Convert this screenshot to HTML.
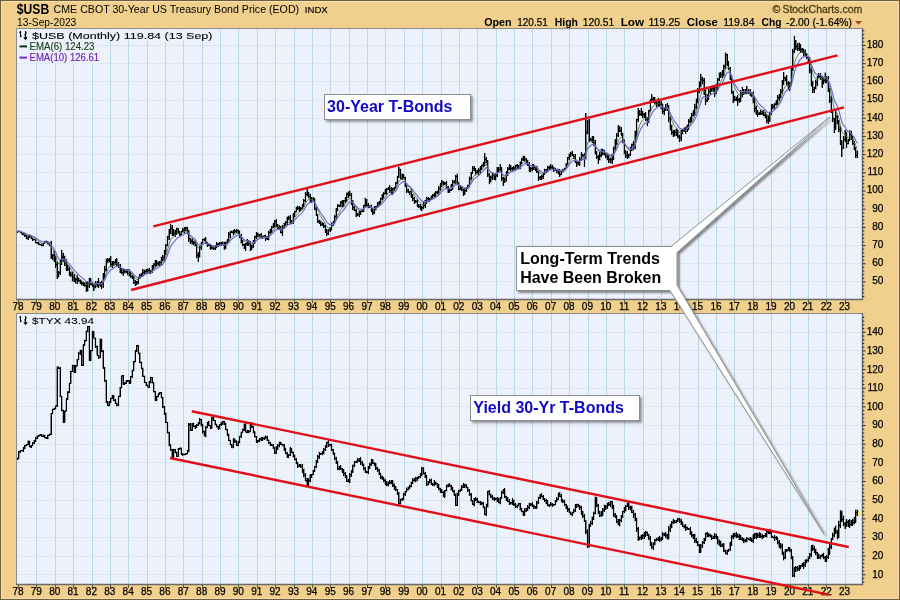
<!DOCTYPE html>
<html><head><meta charset="utf-8"><title>$USB</title>
<style>html,body{margin:0;padding:0;background:#F0D08C;}body{width:900px;height:600px;position:relative;overflow:hidden;font-family:"Liberation Sans",sans-serif;}</style>
</head><body>
<svg width="900" height="600" viewBox="0 0 900 600" style="position:absolute;left:0;top:0;opacity:0.999;font-family:'Liberation Sans',sans-serif">
<defs>
<filter id="sh" x="-5%" y="-5%" width="115%" height="115%"><feGaussianBlur in="SourceAlpha" stdDeviation="1.2"/><feOffset dx="2" dy="2"/><feComponentTransfer><feFuncA type="linear" slope="0.45"/></feComponentTransfer><feMerge><feMergeNode/><feMergeNode in="SourceGraphic"/></feMerge></filter>
<filter id="sh2" x="-5%" y="-20%" width="115%" height="150%"><feGaussianBlur in="SourceAlpha" stdDeviation="1"/><feOffset dx="1.5" dy="1.5"/><feComponentTransfer><feFuncA type="linear" slope="0.38"/></feComponentTransfer><feMerge><feMergeNode/><feMergeNode in="SourceGraphic"/></feMerge></filter>
<clipPath id="c1"><rect x="16" y="28" width="846" height="272"/></clipPath>
<clipPath id="c2"><rect x="16" y="313" width="846" height="272"/></clipPath>
</defs>
<rect x="0" y="0" width="900" height="600" fill="#F0D08C"/>
<rect x="0.5" y="0.5" width="899" height="599" fill="none" stroke="#6E5F3C" stroke-width="1"/>
<path d="M1.5 598.5 V1.5 H898.5" fill="none" stroke="#F8E2B4" stroke-width="1"/>
<path d="M898.5 2 V598.5 H2" fill="none" stroke="#F3DAB0" stroke-width="1"/>
<rect x="16" y="28" width="846" height="272" fill="#EDF1FB"/>
<path d="M16 281.5H862 M16 263.5H862 M16 245.5H862 M16 227.5H862 M16 209.5H862 M16 191.5H862 M16 172.5H862 M16 154.5H862 M16 136.5H862 M16 118.5H862 M16 100.5H862 M16 81.5H862 M16 63.5H862 M16 45.5H862" stroke="#D6E8F0" stroke-width="1" fill="none" shape-rendering="crispEdges"/>
<path d="M36.5 28V300 M55.5 28V300 M73.5 28V300 M92.5 28V300 M110.5 28V300 M128.5 28V300 M147.5 28V300 M165.5 28V300 M183.5 28V300 M202.5 28V300 M220.5 28V300 M238.5 28V300 M257.5 28V300 M275.5 28V300 M294.5 28V300 M312.5 28V300 M330.5 28V300 M349.5 28V300 M367.5 28V300 M385.5 28V300 M404.5 28V300 M422.5 28V300 M441.5 28V300 M459.5 28V300 M477.5 28V300 M496.5 28V300 M514.5 28V300 M532.5 28V300 M551.5 28V300 M569.5 28V300 M588.5 28V300 M606.5 28V300 M624.5 28V300 M643.5 28V300 M661.5 28V300 M679.5 28V300 M698.5 28V300 M716.5 28V300 M734.5 28V300 M753.5 28V300 M771.5 28V300 M790.5 28V300 M808.5 28V300 M826.5 28V300 M845.5 28V300" stroke="#BCD7E5" stroke-width="1" fill="none" shape-rendering="crispEdges"/>
<rect x="16" y="313" width="846" height="272" fill="#EDF1FB"/>
<path d="M16 574.5H862 M16 556.5H862 M16 537.5H862 M16 518.5H862 M16 500.5H862 M16 481.5H862 M16 462.5H862 M16 444.5H862 M16 425.5H862 M16 406.5H862 M16 388.5H862 M16 369.5H862 M16 350.5H862 M16 332.5H862" stroke="#D6E8F0" stroke-width="1" fill="none" shape-rendering="crispEdges"/>
<path d="M36.5 313V585 M55.5 313V585 M73.5 313V585 M92.5 313V585 M110.5 313V585 M128.5 313V585 M147.5 313V585 M165.5 313V585 M183.5 313V585 M202.5 313V585 M220.5 313V585 M238.5 313V585 M257.5 313V585 M275.5 313V585 M294.5 313V585 M312.5 313V585 M330.5 313V585 M349.5 313V585 M367.5 313V585 M385.5 313V585 M404.5 313V585 M422.5 313V585 M441.5 313V585 M459.5 313V585 M477.5 313V585 M496.5 313V585 M514.5 313V585 M532.5 313V585 M551.5 313V585 M569.5 313V585 M588.5 313V585 M606.5 313V585 M624.5 313V585 M643.5 313V585 M661.5 313V585 M679.5 313V585 M698.5 313V585 M716.5 313V585 M734.5 313V585 M753.5 313V585 M771.5 313V585 M790.5 313V585 M808.5 313V585 M826.5 313V585 M845.5 313V585" stroke="#BCD7E5" stroke-width="1" fill="none" shape-rendering="crispEdges"/>
<g clip-path="url(#c1)">
<defs><path id="b1" d="M17.30 230.89V232.56M16.30 231.70H17.30M17.30 231.28H18.30M18.83 230.52V232.11M17.83 231.28H18.83M18.83 231.52H19.83M20.37 230.79V232.60M19.37 231.52H20.37M20.37 232.33H21.37M21.90 232.02V234.40M20.90 232.33H21.90M21.90 234.07H22.90M23.43 233.04V235.30M22.43 234.07H23.43M23.43 234.94H24.43M24.96 234.10V237.04M23.96 234.94H24.96M24.96 235.89H25.96M26.50 235.27V239.35M25.50 235.89H26.50M26.50 238.17H27.50M28.03 235.93V239.70M27.03 238.17H28.03M28.03 236.99H29.03M29.56 235.49V237.53M28.56 236.99H29.56M29.56 235.84H30.56M31.10 235.43V239.19M30.10 235.84H31.10M31.10 238.39H32.10M32.63 237.79V240.59M31.63 238.39H32.63M32.63 239.82H33.63M34.16 239.52V240.37M33.16 239.82H34.16M34.16 239.93H35.16M35.69 239.28V243.18M34.69 239.93H35.69M35.69 242.63H36.69M37.23 241.96V243.91M36.23 242.63H37.23M37.23 243.38H38.23M38.76 242.47V244.87M37.76 243.38H38.76M38.76 244.39H39.76M40.29 243.63V245.47M39.29 244.39H40.29M40.29 244.38H41.29M41.83 243.86V246.44M40.83 244.38H41.83M41.83 245.26H42.83M43.36 242.64V246.23M42.36 245.26H43.36M43.36 243.29H44.36M44.89 240.80V243.56M43.89 243.29H44.89M44.89 241.51H45.89M46.42 240.53V242.54M45.42 241.51H46.42M46.42 241.75H47.42M47.96 241.21V244.41M46.96 241.75H47.96M47.96 243.50H48.96M49.49 242.71V246.14M48.49 243.50H49.49M49.49 245.46H50.49M51.02 241.06V258.68M50.02 245.46H51.02M51.02 256.02H52.02M52.56 254.35V259.52M51.56 256.02H52.56M52.56 255.49H53.56M54.09 250.92V262.03M53.09 255.49H54.09M54.09 258.08H55.09M55.62 255.74V267.56M54.62 258.08H55.62M55.62 264.18H56.62M57.15 261.56V279.00M56.15 264.18H57.15M57.15 273.52H58.15M58.69 271.42V277.27M57.69 273.52H58.69M58.69 272.56H59.69M60.22 260.35V274.92M59.22 272.56H60.22M60.22 262.18H61.22M61.75 249.70V264.75M60.75 262.18H61.75M61.75 257.02H62.75M63.29 252.84V261.71M62.29 257.02H63.29M63.29 257.78H64.29M64.82 255.83V265.74M63.82 257.78H64.82M64.82 263.29H65.82M66.35 259.12V270.58M65.35 263.29H66.35M66.35 266.13H67.35M67.88 264.57V271.03M66.88 266.13H67.88M67.88 269.26H68.88M69.42 266.55V275.56M68.42 269.26H69.42M69.42 272.47H70.42M70.95 271.53V277.09M69.95 272.47H70.95M70.95 274.63H71.95M72.48 271.62V281.44M71.48 274.63H72.48M72.48 277.01H73.48M74.02 274.20V281.89M73.02 277.01H74.02M74.02 278.70H75.02M75.55 277.58V283.38M74.55 278.70H75.55M75.55 279.15H76.55M77.08 275.02V284.09M76.08 279.15H77.08M77.08 280.24H78.08M78.61 277.85V281.97M77.61 280.24H78.61M78.61 280.66H79.61M80.15 279.52V284.12M79.15 280.66H80.15M80.15 282.95H81.15M81.68 281.43V285.38M80.68 282.95H81.68M81.68 283.21H82.68M83.21 282.28V285.75M82.21 283.21H83.21M83.21 284.27H84.21M84.75 282.01V286.64M83.75 284.27H84.75M84.75 285.62H85.75M86.28 282.44V291.70M85.28 285.62H86.28M86.28 289.13H87.28M87.81 280.90V291.39M86.81 289.13H87.81M87.81 283.10H88.81M89.34 277.70V287.67M88.34 283.10H89.34M89.34 281.05H90.34M90.88 278.35V285.28M89.88 281.05H90.88M90.88 284.05H91.88M92.41 281.86V286.86M91.41 284.05H92.41M92.41 284.96H93.41M93.94 283.45V291.00M92.94 284.96H93.94M93.94 286.92H94.94M95.48 281.40V288.38M94.48 286.92H95.48M95.48 284.27H96.48M97.01 281.29V287.13M96.01 284.27H97.01M97.01 282.31H98.01M98.54 278.21V287.68M97.54 282.31H98.54M98.54 284.20H99.54M100.07 281.93V286.59M99.07 284.20H100.07M100.07 285.05H101.07M101.61 280.75V288.84M100.61 285.05H101.61M101.61 283.63H102.61M103.14 273.49V287.54M102.14 283.63H103.14M103.14 275.23H104.14M104.67 265.64V279.12M103.67 275.23H104.67M104.67 269.70H105.67M106.21 258.70V271.45M105.21 269.70H106.21M106.21 262.34H107.21M107.74 258.03V263.37M106.74 262.34H107.74M107.74 260.26H108.74M109.27 258.31V262.42M108.27 260.26H109.27M109.27 260.55H110.27M110.80 256.11V266.87M109.80 260.55H110.80M110.80 264.31H111.80M112.34 261.04V268.21M111.34 264.31H112.34M112.34 265.02H113.34M113.87 261.20V266.28M112.87 265.02H113.87M113.87 262.44H114.87M115.40 259.00V264.75M114.40 262.44H115.40M115.40 261.07H116.40M116.94 258.19V266.66M115.94 261.07H116.94M116.94 264.74H117.94M118.47 261.97V267.98M117.47 264.74H118.47M118.47 267.09H119.47M120.00 264.03V272.91M119.00 267.09H120.00M120.00 270.18H121.00M121.53 268.26V273.88M120.53 270.18H121.53M121.53 272.75H122.53M123.07 269.33V275.52M122.07 272.75H123.07M123.07 270.87H124.07M124.60 269.17V273.39M123.60 270.87H124.60M124.60 271.67H125.60M126.13 269.09V273.35M125.13 271.67H126.13M126.13 272.25H127.13M127.66 269.38V275.29M126.66 272.25H127.66M127.66 270.44H128.66M129.20 269.39V276.42M128.20 270.44H129.20M129.20 273.58H130.20M130.73 271.18V277.81M129.73 273.58H130.73M130.73 276.22H131.73M132.26 275.22V278.74M131.26 276.22H132.26M132.26 278.04H133.26M133.80 275.67V284.09M132.80 278.04H133.80M133.80 282.04H134.80M135.33 280.23V285.80M134.33 282.04H135.33M135.33 283.87H136.33M136.86 280.95V285.19M135.86 283.87H136.86M136.86 282.16H137.86M138.39 276.66V284.37M137.39 282.16H138.39M138.39 277.95H139.39M139.93 273.64V278.96M138.93 277.95H139.93M139.93 275.41H140.93M141.46 273.32V277.27M140.46 275.41H141.46M141.46 274.91H142.46M142.99 269.21V276.68M141.99 274.91H142.99M142.99 272.26H143.99M144.53 269.74V274.32M143.53 272.26H144.53M144.53 271.73H145.53M146.06 268.81V273.55M145.06 271.73H146.06M146.06 269.52H147.06M147.59 268.85V272.77M146.59 269.52H147.59M147.59 270.00H148.59M149.12 268.09V274.04M148.12 270.00H149.12M149.12 271.46H150.12M150.66 269.94V273.84M149.66 271.46H150.66M150.66 271.82H151.66M152.19 265.23V272.76M151.19 271.82H152.19M152.19 267.96H153.19M153.72 263.28V269.35M152.72 267.96H153.72M153.72 264.59H154.72M155.26 260.00V266.74M154.26 264.59H155.26M155.26 263.50H156.26M156.79 260.43V265.53M155.79 263.50H156.79M156.79 263.70H157.79M158.32 261.50V265.71M157.32 263.70H158.32M158.32 263.50H159.32M159.85 261.03V265.57M158.85 263.50H159.85M159.85 262.89H160.85M161.39 256.77V265.39M160.39 262.89H161.39M161.39 259.92H162.39M162.92 255.17V261.26M161.92 259.92H162.92M162.92 258.32H163.92M164.45 250.17V261.20M163.45 258.32H164.45M164.45 253.32H165.45M165.99 244.34V255.15M164.99 253.32H165.99M165.99 245.33H166.99M167.52 235.64V246.18M166.52 245.33H167.52M167.52 236.93H168.52M169.05 228.97V239.96M168.05 236.93H169.05M169.05 231.69H170.05M170.58 224.20V234.10M169.58 231.69H170.58M170.58 228.03H171.58M172.12 225.03V235.73M171.12 228.03H172.12M172.12 232.51H173.12M173.65 229.34V235.50M172.65 232.51H173.65M173.65 233.79H174.65M175.18 229.78V236.64M174.18 233.79H175.18M175.18 233.05H176.18M176.72 227.50V235.07M175.72 233.05H176.72M176.72 229.15H177.72M178.25 227.97V233.67M177.25 229.15H178.25M178.25 232.17H179.25M179.78 231.46V236.28M178.78 232.17H179.78M179.78 234.16H180.78M181.31 230.73V235.69M180.31 234.16H181.31M181.31 231.44H182.31M182.85 228.11V232.27M181.85 231.44H182.85M182.85 230.12H183.85M184.38 227.38V233.88M183.38 230.12H184.38M184.38 230.66H185.38M185.91 226.65V231.42M184.91 230.66H185.91M185.91 228.01H186.91M187.45 226.64V234.26M186.45 228.01H187.45M187.45 233.26H188.45M188.98 230.19V241.63M187.98 233.26H188.98M188.98 238.81H189.98M190.51 237.88V243.72M189.51 238.81H190.51M190.51 241.01H191.51M192.04 238.80V244.48M191.04 241.01H192.04M192.04 243.69H193.04M193.58 240.76V245.26M192.58 243.69H193.58M193.58 242.94H194.58M195.11 240.18V246.40M194.11 242.94H195.11M195.11 244.35H196.11M196.64 243.58V257.92M195.64 244.35H196.64M196.64 255.36H197.64M198.18 252.07V261.70M197.18 255.36H198.18M198.18 254.65H199.18M199.71 245.83V257.38M198.71 254.65H199.71M199.71 247.69H200.71M201.24 242.30V249.50M200.24 247.69H201.24M201.24 243.18H202.24M202.77 238.78V244.14M201.77 243.18H202.77M202.77 239.61H203.77M204.31 238.46V240.91M203.31 239.61H204.31M204.31 239.50H205.31M205.84 237.16V244.02M204.84 239.50H205.84M205.84 242.76H206.84M207.37 241.77V246.63M206.37 242.76H207.37M207.37 245.24H208.37M208.91 244.08V246.31M207.91 245.24H208.91M208.91 245.69H209.91M210.44 243.83V249.52M209.44 245.69H210.44M210.44 248.50H211.44M211.97 245.35V249.33M210.97 248.50H211.97M211.97 248.10H212.97M213.50 246.51V250.00M212.50 248.10H213.50M213.50 248.28H214.50M215.04 245.34V250.03M214.04 248.28H215.04M215.04 246.83H216.04M216.57 242.03V248.20M215.57 246.83H216.57M216.57 244.89H217.57M218.10 242.67V246.95M217.10 244.89H218.10M218.10 244.89H219.10M219.64 241.88V245.60M218.64 244.89H219.64M219.64 243.27H220.64M221.17 241.81V245.57M220.17 243.27H221.17M221.17 242.56H222.17M222.70 241.60V245.24M221.70 242.56H222.70M222.70 244.47H223.70M224.23 241.87V249.79M223.23 244.47H224.23M224.23 247.65H225.23M225.77 241.72V248.91M224.77 247.65H225.77M225.77 242.86H226.77M227.30 239.34V244.48M226.30 242.86H227.30M227.30 240.28H228.30M228.83 232.05V243.12M227.83 240.28H228.83M228.83 234.86H229.83M230.37 230.87V237.69M229.37 234.86H230.37M230.37 232.02H231.37M231.90 230.61V232.63M230.90 232.02H231.90M231.90 232.05H232.90M233.43 230.37V234.59M232.43 232.05H233.43M233.43 232.85H234.43M234.96 229.43V233.44M233.96 232.85H234.96M234.96 231.18H235.96M236.50 229.45V232.69M235.50 231.18H236.50M236.50 230.24H237.50M238.03 229.61V233.73M237.03 230.24H238.03M238.03 232.45H239.03M239.56 230.51V238.31M238.56 232.45H239.56M239.56 236.50H240.56M241.10 234.40V243.48M240.10 236.50H241.10M241.10 241.24H242.10M242.63 239.75V246.02M241.63 241.24H242.63M242.63 244.68H243.63M244.16 243.75V249.00M243.16 244.68H244.16M244.16 248.06H245.16M245.69 243.04V250.57M244.69 248.06H245.69M245.69 243.72H246.69M247.23 238.96V246.01M246.23 243.72H247.23M247.23 240.99H248.23M248.76 240.09V245.55M247.76 240.99H248.76M248.76 243.76H249.76M250.29 241.24V251.00M249.29 243.76H250.29M250.29 247.24H251.29M251.83 244.86V249.89M250.83 247.24H251.83M251.83 246.80H252.83M253.36 239.91V247.91M252.36 246.80H253.36M253.36 242.10H254.36M254.89 235.86V243.51M253.89 242.10H254.89M254.89 236.75H255.89M256.42 232.13V238.62M255.42 236.75H256.42M256.42 234.64H257.42M257.96 232.61V236.92M256.96 234.64H257.96M257.96 234.76H258.96M259.49 234.17V237.36M258.49 234.76H259.49M259.49 234.93H260.49M261.02 233.18V238.11M260.02 234.93H261.02M261.02 236.29H262.02M262.56 235.54V238.58M261.56 236.29H262.56M262.56 236.28H263.56M264.09 235.01V237.47M263.09 236.28H264.09M264.09 235.76H265.09M265.62 234.70V240.80M264.62 235.76H265.62M265.62 238.56H266.62M267.15 236.18V240.03M266.15 238.56H267.15M267.15 237.91H268.15M268.69 230.67V240.27M267.69 237.91H268.69M268.69 232.84H269.69M270.22 228.68V233.60M269.22 232.84H270.22M270.22 230.75H271.22M271.75 226.22V233.06M270.75 230.75H271.75M271.75 227.39H272.75M273.29 223.39V228.00M272.29 227.39H273.29M273.29 225.29H274.29M274.82 220.00V227.42M273.82 225.29H274.82M274.82 221.38H275.82M276.35 219.23V226.95M275.35 221.38H276.35M276.35 225.70H277.35M277.88 224.04V229.70M276.88 225.70H277.88M277.88 228.04H278.88M279.42 225.38V229.84M278.42 228.04H279.42M279.42 228.80H280.42M280.95 226.04V233.40M279.95 228.80H280.95M280.95 232.78H281.95M282.48 225.09V235.60M281.48 232.78H282.48M282.48 227.57H283.48M284.02 222.69V228.64M283.02 227.57H284.02M284.02 223.89H285.02M285.55 221.37V225.82M284.55 223.89H285.55M285.55 222.44H286.55M287.08 216.57V225.23M286.08 222.44H287.08M287.08 218.37H288.08M288.61 215.80V220.13M287.61 218.37H288.61M288.61 217.67H289.61M290.15 215.46V224.22M289.15 217.67H290.15M290.15 223.11H291.15M291.68 220.36V223.74M290.68 223.11H291.68M291.68 222.06H292.68M293.21 213.43V223.69M292.21 222.06H293.21M293.21 215.15H294.21M294.75 210.90V216.53M293.75 215.15H294.75M294.75 211.81H295.75M296.28 206.68V212.39M295.28 211.81H296.28M296.28 209.21H297.28M297.81 205.67V210.07M296.81 209.21H297.81M297.81 208.19H298.81M299.34 205.96V211.69M298.34 208.19H299.34M299.34 209.02H300.34M300.88 206.92V210.51M299.88 209.02H300.88M300.88 208.36H301.88M302.41 204.39V209.78M301.41 208.36H302.41M302.41 206.34H303.41M303.94 199.26V207.03M302.94 206.34H303.94M303.94 200.48H304.94M305.48 192.43V201.72M304.48 200.48H305.48M305.48 194.94H306.48M307.01 189.20V196.14M306.01 194.94H307.01M307.01 192.85H308.01M308.54 191.83V197.75M307.54 192.85H308.54M308.54 196.30H309.54M310.07 193.67V202.49M309.07 196.30H310.07M310.07 200.03H311.07M311.61 196.99V202.79M310.61 200.03H311.61M311.61 199.69H312.61M313.14 197.44V200.78M312.14 199.69H313.14M313.14 200.08H314.14M314.67 198.46V210.32M313.67 200.08H314.67M314.67 208.00H315.67M316.21 206.75V215.79M315.21 208.00H316.21M316.21 215.09H317.21M317.74 214.22V222.77M316.74 215.09H317.74M317.74 221.09H318.74M319.27 219.82V223.98M318.27 221.09H319.27M319.27 221.69H320.27M320.80 220.50V226.41M319.80 221.69H320.80M320.80 224.31H321.80M322.34 222.12V225.80M321.34 224.31H322.34M322.34 223.99H323.34M323.87 223.04V227.77M322.87 223.99H323.87M323.87 226.71H324.87M325.40 224.97V232.87M324.40 226.71H325.40M325.40 231.78H326.40M326.94 228.89V235.80M325.94 231.78H326.94M326.94 233.91H327.94M328.47 229.37V234.70M327.47 233.91H328.47M328.47 230.39H329.47M330.00 227.03V231.53M329.00 230.39H330.00M330.00 227.82H331.00M331.53 222.61V230.46M330.53 227.82H331.53M331.53 224.51H332.53M333.07 221.38V226.05M332.07 224.51H333.07M333.07 222.92H334.07M334.60 215.20V224.28M333.60 222.92H334.60M334.60 216.65H335.60M336.13 208.00V219.48M335.13 216.65H336.13M336.13 209.22H337.13M337.66 203.97V211.27M336.66 209.22H337.66M337.66 205.72H338.66M339.20 204.52V206.92M338.20 205.72H339.20M339.20 205.60H340.20M340.73 201.04V207.22M339.73 205.60H340.73M340.73 202.55H341.73M342.26 200.00V207.27M341.26 202.55H342.26M342.26 204.66H343.26M343.80 199.90V206.89M342.80 204.66H343.80M343.80 200.56H344.80M345.33 197.45V202.50M344.33 200.56H345.33M345.33 199.13H346.33M346.86 192.59V201.86M345.86 199.13H346.86M346.86 194.08H347.86M348.39 191.52V197.78M347.39 194.08H348.39M348.39 194.94H349.39M349.93 190.80V196.43M348.93 194.94H349.93M349.93 195.49H350.93M351.46 193.33V205.02M350.46 195.49H351.46M351.46 202.26H352.46M352.99 200.18V210.30M351.99 202.26H352.99M352.99 207.95H353.99M354.53 206.09V211.14M353.53 207.95H354.53M354.53 210.47H355.53M356.06 209.35V217.00M355.06 210.47H356.06M356.06 214.32H357.06M357.59 213.04V215.62M356.59 214.32H357.59M357.59 214.74H358.59M359.12 210.87V216.94M358.12 214.74H359.12M359.12 212.92H360.12M360.66 210.53V214.72M359.66 212.92H360.66M360.66 211.27H361.66M362.19 209.18V212.37M361.19 211.27H362.19M362.19 210.66H363.19M363.72 204.81V211.94M362.72 210.66H363.72M363.72 205.41H364.72M365.26 197.76V207.49M364.26 205.41H365.26M365.26 200.57H366.26M366.79 198.89V207.07M365.79 200.57H366.79M366.79 205.95H367.79M368.32 203.13V208.16M367.32 205.95H368.32M368.32 205.94H369.32M369.85 205.31V207.86M368.85 205.94H369.85M369.85 206.12H370.85M371.39 204.57V211.72M370.39 206.12H371.39M371.39 210.54H372.39M372.92 207.82V215.00M371.92 210.54H372.92M372.92 212.42H373.92M374.45 206.38V213.98M373.45 212.42H374.45M374.45 207.74H375.45M375.99 205.84V210.17M374.99 207.74H375.99M375.99 206.88H376.99M377.52 202.23V207.93M376.52 206.88H377.52M377.52 203.98H378.52M379.05 201.05V206.46M378.05 203.98H379.05M379.05 202.36H380.05M380.58 197.51V204.70M379.58 202.36H380.58M380.58 198.61H381.58M382.12 194.06V200.34M381.12 198.61H382.12M382.12 196.85H383.12M383.65 192.36V198.40M382.65 196.85H383.65M383.65 193.46H384.65M385.18 189.17V194.38M384.18 193.46H385.18M385.18 191.95H386.18M386.72 187.97V194.79M385.72 191.95H386.72M386.72 189.05H387.72M388.25 187.30V189.77M387.25 189.05H388.25M388.25 188.00H389.25M389.78 185.33V192.96M388.78 188.00H389.78M389.78 190.33H390.78M391.31 187.44V194.50M390.31 190.33H391.31M391.31 191.76H392.31M392.85 187.65V194.51M391.85 191.76H392.85M392.85 188.66H393.85M394.38 187.17V190.78M393.38 188.66H394.38M394.38 187.82H395.38M395.91 181.71V189.17M394.91 187.82H395.91M395.91 183.16H396.91M397.45 176.34V184.39M396.45 183.16H397.45M397.45 176.92H398.45M398.98 166.70V177.79M397.98 176.92H398.98M398.98 169.70H399.98M400.51 168.63V179.43M399.51 169.70H400.51M400.51 178.02H401.51M402.04 173.60V179.60M401.04 178.02H402.04M402.04 176.08H403.04M403.58 174.40V179.25M402.58 176.08H403.58M403.58 177.81H404.58M405.11 176.78V186.83M404.11 177.81H405.11M405.11 185.41H406.11M406.64 184.76V192.51M405.64 185.41H406.64M406.64 190.98H407.64M408.18 188.62V193.09M407.18 190.98H408.18M408.18 192.41H409.18M409.71 190.89V195.13M408.71 192.41H409.71M409.71 191.61H410.71M411.24 189.30V197.76M410.24 191.61H411.24M411.24 195.09H412.24M412.77 193.88V201.25M411.77 195.09H412.77M412.77 198.45H413.77M414.31 197.26V203.57M413.31 198.45H414.31M414.31 201.33H415.31M415.84 200.11V202.50M414.84 201.33H415.84M415.84 201.91H416.84M417.37 199.21V206.81M416.37 201.91H417.37M417.37 204.76H418.37M418.91 204.12V208.03M417.91 204.76H418.91M418.91 206.90H419.91M420.44 204.10V209.77M419.44 206.90H420.44M420.44 206.98H421.44M421.97 205.82V210.80M420.97 206.98H421.97M421.97 207.95H422.97M423.50 202.35V208.96M422.50 207.95H423.50M423.50 205.08H424.50M425.04 199.97V207.57M424.04 205.08H425.04M425.04 202.27H426.04M426.57 196.63V203.61M425.57 202.27H426.57M426.57 198.62H427.57M428.10 197.20V201.71M427.10 198.62H428.10M428.10 199.32H429.10M429.64 198.28V201.74M428.64 199.32H429.64M429.64 199.41H430.64M431.17 195.57V200.07M430.17 199.41H431.17M431.17 196.30H432.17M432.70 194.14V199.15M431.70 196.30H432.70M432.70 195.47H433.70M434.23 192.60V196.92M433.23 195.47H434.23M434.23 195.72H435.23M435.77 191.38V197.46M434.77 195.72H435.77M435.77 192.19H436.77M437.30 190.57V193.65M436.30 192.19H437.30M437.30 192.53H438.30M438.83 186.40V194.67M437.83 192.53H438.83M438.83 188.42H439.83M440.37 183.39V190.54M439.37 188.42H440.37M440.37 185.93H441.37M441.90 179.98V187.19M440.90 185.93H441.90M441.90 182.51H442.90M443.43 181.07V185.38M442.43 182.51H443.43M443.43 183.08H444.43M444.96 181.93V184.67M443.96 183.08H444.96M444.96 183.52H445.96M446.50 180.89V189.16M445.50 183.52H446.50M446.50 187.24H447.50M448.03 185.74V192.99M447.03 187.24H448.03M448.03 190.11H449.03M449.56 188.99V192.62M448.56 190.11H449.56M449.56 190.16H450.56M451.10 184.29V190.98M450.10 190.16H451.10M451.10 187.17H452.10M452.63 179.74V189.70M451.63 187.17H452.63M452.63 182.22H453.63M454.16 180.46V183.48M453.16 182.22H454.16M454.16 181.14H455.16M455.69 175.00V183.97M454.69 181.14H455.69M455.69 176.34H456.69M457.23 173.61V185.28M456.23 176.34H457.23M457.23 183.84H458.23M458.76 182.22V190.29M457.76 183.84H458.76M458.76 189.10H459.76M460.29 185.08V189.93M459.29 189.10H460.29M460.29 187.86H461.29M461.83 185.84V190.73M460.83 187.86H461.83M461.83 189.65H462.83M463.36 188.74V195.50M462.36 189.65H463.36M463.36 192.71H464.36M464.89 188.45V194.80M463.89 192.71H464.89M464.89 190.42H465.89M466.42 187.06V191.76M465.42 190.42H466.42M466.42 187.66H467.42M467.96 184.52V188.97M466.96 187.66H467.96M467.96 185.53H468.96M469.49 176.51V187.38M468.49 185.53H469.49M469.49 178.93H470.49M471.02 172.00V180.43M470.02 178.93H471.02M471.02 172.81H472.02M472.56 166.47V173.60M471.56 172.81H472.56M472.56 168.53H473.56M474.09 166.34V171.23M473.09 168.53H474.09M474.09 169.70H475.09M475.62 168.40V175.17M474.62 169.70H475.62M475.62 172.38H476.62M477.15 169.98V173.79M476.15 172.38H477.15M477.15 171.87H478.15M478.69 168.09V174.76M477.69 171.87H478.69M478.69 170.68H479.69M480.22 166.41V172.94M479.22 170.68H480.22M480.22 167.45H481.22M481.75 164.57V170.12M480.75 167.45H481.75M481.75 165.16H482.75M483.29 162.30V166.69M482.29 165.16H483.29M483.29 164.78H484.29M484.82 153.30V165.74M483.82 164.78H484.82M484.82 159.03H485.82M486.35 157.17V163.27M485.35 159.03H486.35M486.35 161.21H487.35M487.88 160.42V176.91M486.88 161.21H487.88M487.88 174.89H488.88M489.42 173.14V184.20M488.42 174.89H489.42M489.42 179.72H490.42M490.95 175.60V182.44M489.95 179.72H490.95M490.95 177.39H491.95M492.48 172.89V179.83M491.48 177.39H492.48M492.48 174.61H493.48M494.02 173.57V179.59M493.02 174.61H494.02M494.02 178.72H495.02M495.55 172.86V180.42M494.55 178.72H495.55M495.55 175.70H496.55M497.08 166.93V177.18M496.08 175.70H497.08M497.08 169.66H498.08M498.61 167.35V172.15M497.61 169.66H498.61M498.61 169.37H499.61M500.15 164.20V170.81M499.15 169.37H500.15M500.15 169.72H501.15M501.68 167.18V180.61M500.68 169.72H501.68M501.68 178.10H502.68M503.21 177.02V185.80M502.21 178.10H503.21M503.21 181.98H504.21M504.75 177.54V182.84M503.75 181.98H504.75M504.75 179.01H505.75M506.28 171.45V181.68M505.28 179.01H506.28M506.28 173.71H507.28M507.81 167.13V176.04M506.81 173.71H507.81M507.81 169.01H508.81M509.34 164.46V169.87M508.34 169.01H509.34M509.34 166.98H510.34M510.88 165.12V170.50M509.88 166.98H510.88M510.88 168.46H511.88M512.41 166.91V170.68M511.41 168.46H512.41M512.41 168.74H513.41M513.94 166.38V170.36M512.94 168.74H513.94M513.94 168.49H514.94M515.48 164.83V170.51M514.48 168.49H515.48M515.48 165.46H516.48M517.01 164.34V168.91M516.01 165.46H517.01M517.01 166.56H518.01M518.54 164.92V169.34M517.54 166.56H518.54M518.54 168.34H519.54M520.07 161.50V169.22M519.07 168.34H520.07M520.07 162.33H521.07M521.61 158.24V163.94M520.61 162.33H521.61M521.61 159.03H522.61M523.14 155.80V161.09M522.14 159.03H523.14M523.14 158.56H524.14M524.67 156.27V161.49M523.67 158.56H524.67M524.67 159.10H525.67M526.21 158.40V164.27M525.21 159.10H526.21M526.21 162.52H527.21M527.74 159.73V165.99M526.74 162.52H527.74M527.74 165.10H528.74M529.27 162.20V171.62M528.27 165.10H529.27M529.27 169.34H530.27M530.80 167.44V172.19M529.80 169.34H530.80M530.80 168.47H531.80M532.34 163.96V171.17M531.34 168.47H532.34M532.34 166.75H533.34M533.87 164.35V169.80M532.87 166.75H533.87M533.87 167.06H534.87M535.40 165.67V170.63M534.40 167.06H535.40M535.40 168.30H536.40M536.94 165.64V172.93M535.94 168.30H536.94M536.94 171.71H537.94M538.47 170.79V180.50M537.47 171.71H538.47M538.47 177.37H539.47M540.00 176.30V180.05M539.00 177.37H540.00M540.00 178.86H541.00M541.53 175.19V179.53M540.53 178.86H541.53M541.53 176.52H542.53M543.07 172.58V179.27M542.07 176.52H543.07M543.07 173.53H544.07M544.60 168.81V174.50M543.60 173.53H544.60M544.60 171.47H545.60M546.13 168.88V173.28M545.13 171.47H546.13M546.13 169.72H547.13M547.66 166.33V172.33M546.66 169.72H547.66M547.66 167.74H548.66M549.20 165.60V170.37M548.20 167.74H549.20M549.20 167.53H550.20M550.73 164.42V169.57M549.73 167.53H550.73M550.73 167.30H551.73M552.26 164.87V169.92M551.26 167.30H552.26M552.26 168.73H553.26M553.80 166.81V171.52M552.80 168.73H553.80M553.80 170.10H554.80M555.33 167.82V171.09M554.33 170.10H555.33M555.33 169.42H556.33M556.86 168.73V173.37M555.86 169.42H556.86M556.86 170.89H557.86M558.39 168.83V174.38M557.39 170.89H558.39M558.39 171.52H559.39M559.93 169.40V176.70M558.93 171.52H559.93M559.93 174.35H560.93M561.46 169.98V175.27M560.46 174.35H561.46M561.46 170.63H562.46M562.99 168.76V172.40M561.99 170.63H562.99M562.99 170.34H563.99M564.53 167.78V171.45M563.53 170.34H564.53M564.53 168.66H565.53M566.06 162.97V169.25M565.06 168.66H566.06M566.06 163.60H567.06M567.59 156.93V165.01M566.59 163.60H567.59M567.59 157.75H568.59M569.12 153.58V159.70M568.12 157.75H569.12M569.12 155.51H570.12M570.66 152.00V157.19M569.66 155.51H570.66M570.66 153.60H571.66M572.19 150.85V156.00M571.19 153.60H572.19M572.19 154.85H573.19M573.72 154.05V158.75M572.72 154.85H573.72M573.72 156.69H574.72M575.26 154.30V162.97M574.26 156.69H575.26M575.26 161.46H576.26M576.79 160.85V167.00M575.79 161.46H576.79M576.79 162.60H577.79M578.32 161.21V165.36M577.32 162.60H578.32M578.32 163.28H579.32M579.85 157.20V165.56M578.85 163.28H579.85M579.85 159.96H580.85M581.39 152.22V160.88M580.39 159.96H581.39M581.39 155.82H582.39M582.92 153.77V157.41M581.92 155.82H582.92M582.92 155.89H583.92M584.45 152.68V166.50M583.45 155.89H584.45M584.45 158.21H585.45M585.99 113.30V159.44M584.99 158.21H585.99M585.99 132.01H586.99M587.52 119.79V134.37M586.52 132.01H587.52M587.52 122.47H588.52M589.05 119.15V141.52M588.05 122.47H589.05M589.05 140.20H590.05M590.58 137.98V141.13M589.58 140.20H590.58M590.58 139.70H591.58M592.12 136.48V142.87M591.12 139.70H592.12M592.12 139.86H593.12M593.65 136.45V146.09M592.65 139.86H593.65M593.65 142.99H594.65M595.18 139.89V154.46M594.18 142.99H595.18M595.18 152.27H596.18M596.72 151.16V158.68M595.72 152.27H596.72M596.72 157.18H597.72M598.25 155.35V164.00M597.25 157.18H598.25M598.25 157.41H599.25M599.78 151.70V160.41M598.78 157.41H599.78M599.78 155.12H600.78M601.31 148.73V157.26M600.31 155.12H601.31M601.31 151.24H602.31M602.85 148.83V155.14M601.85 151.24H602.85M602.85 153.53H603.85M604.38 149.74V155.41M603.38 153.53H604.38M604.38 153.96H605.38M605.91 153.13V158.21M604.91 153.96H605.91M605.91 156.62H606.91M607.45 153.52V160.37M606.45 156.62H607.45M607.45 156.64H608.45M608.98 154.84V163.08M607.98 156.64H608.98M608.98 159.55H609.98M610.51 158.03V163.28M609.51 159.55H610.51M610.51 159.66H611.51M612.04 153.65V164.00M611.04 159.66H612.04M612.04 156.59H613.04M613.58 146.57V159.99M612.58 156.59H613.58M613.58 148.82H614.58M615.11 139.43V150.96M614.11 148.82H615.11M615.11 142.88H616.11M616.64 133.11V144.62M615.64 142.88H616.64M616.64 135.67H617.64M618.18 125.00V136.69M617.18 135.67H618.18M618.18 127.58H619.18M619.71 126.35V131.85M618.71 127.58H619.71M619.71 130.98H620.71M621.24 127.31V135.57M620.24 130.98H621.24M621.24 133.71H622.24M622.77 132.84V143.25M621.77 133.71H622.77M622.77 142.34H623.77M624.31 139.58V154.14M623.31 142.34H624.31M624.31 151.19H625.31M625.84 150.20V157.91M624.84 151.19H625.84M625.84 155.29H626.84M627.37 151.44V159.00M626.37 155.29H627.37M627.37 154.78H628.37M628.91 153.79V158.26M627.91 154.78H628.91M628.91 154.78H629.91M630.44 146.70V155.89M629.44 154.78H630.44M630.44 150.43H631.44M631.97 143.55V151.32M630.97 150.43H631.97M631.97 144.68H632.97M633.50 141.36V150.23M632.50 144.68H633.50M633.50 147.47H634.50M635.04 130.63V149.15M634.04 147.47H635.04M635.04 133.38H636.04M636.57 118.64V136.52M635.57 133.38H636.57M636.57 119.73H637.57M638.10 108.30V121.83M637.10 119.73H638.10M638.10 111.59H639.10M639.64 110.01V115.79M638.64 111.59H639.64M639.64 114.13H640.64M641.17 108.30V115.91M640.17 114.13H641.17M641.17 113.72H642.17M642.70 111.37V117.68M641.70 113.72H642.70M642.70 114.25H643.70M644.23 113.37V117.52M643.23 114.25H644.23M644.23 115.46H645.23M645.77 112.26V121.30M644.77 115.46H645.77M645.77 119.44H646.77M647.30 116.98V125.50M646.30 119.44H647.30M647.30 119.59H648.30M648.83 109.69V122.93M647.83 119.59H648.83M648.83 110.75H649.83M650.37 99.29V112.16M649.37 110.75H650.37M650.37 100.07H651.37M651.90 94.20V100.86M650.90 100.07H651.90M651.90 99.16H652.90M653.43 96.85V102.79M652.43 99.16H653.43M653.43 99.52H654.43M654.96 97.20V104.13M653.96 99.52H654.96M654.96 102.27H655.96M656.50 100.68V107.17M655.50 102.27H656.50M656.50 103.44H657.50M658.03 98.30V106.41M657.03 103.44H658.03M658.03 100.93H659.03M659.56 99.80V106.84M658.56 100.93H659.56M659.56 104.07H660.56M661.10 100.84V109.27M660.10 104.07H661.10M661.10 106.32H662.10M662.63 103.58V114.00M661.63 106.32H662.63M662.63 111.70H663.63M664.16 107.99V115.25M663.16 111.70H664.16M664.16 110.00H665.16M665.69 103.96V110.86M664.69 110.00H665.69M665.69 107.52H666.69M667.23 103.30V111.11M666.23 107.52H667.23M667.23 107.04H668.23M668.76 105.07V122.14M667.76 107.04H668.76M668.76 118.60H669.76M670.29 116.38V130.43M669.29 118.60H670.29M670.29 128.00H671.29M671.83 124.87V134.95M670.83 128.00H671.83M671.83 132.15H672.83M673.36 130.35V137.00M672.36 132.15H673.36M673.36 133.33H674.36M674.89 129.59V136.43M673.89 133.33H674.89M674.89 132.44H675.89M676.42 128.60V135.63M675.42 132.44H676.42M676.42 130.75H677.42M677.96 129.58V138.48M676.96 130.75H677.96M677.96 136.26H678.96M679.49 134.74V141.50M678.49 136.26H679.49M679.49 137.95H680.49M681.02 129.69V141.36M680.02 137.95H681.02M681.02 132.66H682.02M682.56 128.96V134.22M681.56 132.66H682.56M682.56 130.22H683.56M684.09 127.54V131.51M683.09 130.22H684.09M684.09 129.95H685.09M685.62 126.67V133.77M684.62 129.95H685.62M685.62 128.04H686.62M687.15 124.59V131.83M686.15 128.04H687.15M687.15 125.69H688.15M688.69 119.03V129.54M687.69 125.69H688.69M688.69 121.01H689.69M690.22 117.37V123.15M689.22 121.01H690.22M690.22 120.44H691.22M691.75 112.76V121.55M690.75 120.44H691.75M691.75 115.53H692.75M693.29 110.46V116.42M692.29 115.53H693.29M693.29 112.45H694.29M694.82 103.81V115.39M693.82 112.45H694.82M694.82 107.06H695.82M696.35 98.61V109.28M695.35 107.06H696.35M696.35 101.37H697.35M697.88 88.39V103.41M696.88 101.37H697.88M697.88 91.05H698.88M699.42 81.52V93.17M698.42 91.05H699.42M699.42 85.13H700.42M700.95 74.00V87.23M699.95 85.13H700.95M700.95 79.74H701.95M702.48 76.70V84.39M701.48 79.74H702.48M702.48 80.87H703.48M704.02 77.90V94.88M703.02 80.87H704.02M704.02 91.45H705.02M705.55 88.66V105.00M704.55 91.45H705.55M705.55 100.82H706.55M707.08 94.10V101.90M706.08 100.82H707.08M707.08 96.84H708.08M708.61 88.59V99.85M707.61 96.84H708.61M708.61 91.81H709.61M710.15 88.34V93.91M709.15 91.81H710.15M710.15 89.90H711.15M711.68 85.87V91.96M710.68 89.90H711.68M711.68 88.59H712.68M713.21 84.91V91.62M712.21 88.59H713.21M713.21 90.27H714.21M714.75 87.07V96.50M713.75 90.27H714.75M714.75 93.33H715.75M716.28 83.56V94.22M715.28 93.33H716.28M716.28 87.38H717.28M717.81 78.37V90.60M716.81 87.38H717.81M717.81 79.65H718.81M719.34 72.59V80.75M718.34 79.65H719.34M719.34 74.99H720.34M720.88 72.29V78.00M719.88 74.99H720.88M720.88 74.76H721.88M722.41 69.89V78.12M721.41 74.76H722.41M722.41 72.66H723.41M723.94 64.60V76.40M722.94 72.66H723.94M723.94 66.66H724.94M725.48 52.50V68.66M724.48 66.66H725.48M725.48 54.93H726.48M727.01 53.76V66.05M726.01 54.93H727.01M727.01 62.20H728.01M728.54 61.24V69.65M727.54 62.20H728.54M728.54 68.01H729.54M730.07 67.19V79.82M729.07 68.01H730.07M730.07 77.73H731.07M731.61 74.77V93.95M730.61 77.73H731.61M731.61 92.07H732.61M733.14 90.59V103.00M732.14 92.07H733.14M733.14 98.13H734.14M734.67 95.70V101.19M733.67 98.13H734.67M734.67 99.73H735.67M736.21 96.52V101.17M735.21 99.73H736.21M736.21 98.52H737.21M737.74 95.32V105.50M736.74 98.52H737.74M737.74 99.99H738.74M739.27 97.67V102.52M738.27 99.99H739.27M739.27 99.92H740.27M740.80 90.38V101.80M739.80 99.92H740.80M740.80 94.17H741.80M742.34 87.00V97.49M741.34 94.17H742.34M742.34 91.01H743.34M743.87 89.31V94.75M742.87 91.01H743.87M743.87 92.26H744.87M745.40 88.88V94.15M744.40 92.26H745.40M745.40 92.26H746.40M746.94 86.00V94.21M745.94 92.26H746.94M746.94 91.32H747.94M748.47 89.21V93.54M747.47 91.32H748.47M748.47 92.18H749.47M750.00 89.15V95.71M749.00 92.18H750.00M750.00 94.05H751.00M751.53 92.33V96.56M750.53 94.05H751.53M751.53 94.29H752.53M753.07 91.52V103.34M752.07 94.29H753.07M753.07 100.51H754.07M754.60 96.83V112.38M753.60 100.51H754.60M754.60 108.93H755.60M756.13 105.57V114.74M755.13 108.93H756.13M756.13 111.13H757.13M757.66 109.91V116.50M756.66 111.13H757.66M757.66 114.12H758.66M759.20 111.81V114.94M758.20 114.12H759.20M759.20 112.64H760.20M760.73 109.81V115.08M759.73 112.64H760.73M760.73 113.52H761.73M762.26 110.73V115.03M761.26 113.52H762.26M762.26 111.95H763.26M763.80 110.09V116.27M762.80 111.95H763.80M763.80 115.01H764.80M765.33 111.76V118.21M764.33 115.01H765.33M765.33 116.90H766.33M766.86 114.23V123.30M765.86 116.90H766.86M766.86 120.08H767.86M768.39 115.32V124.00M767.39 120.08H768.39M768.39 118.89H769.39M769.93 111.58V121.83M768.93 118.89H769.93M769.93 112.97H770.93M771.46 104.43V115.12M770.46 112.97H771.46M771.46 107.52H772.46M772.99 104.04V109.13M771.99 107.52H772.99M772.99 106.55H773.99M774.53 102.99V108.87M773.53 106.55H774.53M774.53 104.20H775.53M776.06 100.40V105.43M775.06 104.20H776.06M776.06 102.64H777.06M777.59 95.47V105.10M776.59 102.64H777.59M777.59 97.81H778.59M779.12 94.20V101.21M778.12 97.81H779.12M779.12 95.00H780.12M780.66 89.26V97.86M779.66 95.00H780.66M780.66 91.79H781.66M782.19 80.29V93.88M781.19 91.79H782.19M782.19 82.24H783.19M783.72 72.00V85.01M782.72 82.24H783.72M783.72 77.50H784.72M785.26 76.63V81.33M784.26 77.50H785.26M785.26 78.65H786.26M786.79 74.96V85.19M785.79 78.65H786.79M786.79 83.38H787.79M788.32 81.01V89.89M787.32 83.38H788.32M788.32 87.60H789.32M789.85 81.93V90.50M788.85 87.60H789.85M789.85 82.81H790.85M791.39 66.65V86.28M790.39 82.81H791.39M791.39 68.49H792.39M792.92 48.85V70.91M791.92 68.49H792.92M792.92 51.11H793.92M794.45 35.80V53.25M793.45 51.11H794.45M794.45 42.52H795.45M795.99 40.01V50.11M794.99 42.52H795.99M795.99 46.75H796.99M797.52 43.38V50.70M796.52 46.75H797.52M797.52 48.66H798.52M799.05 42.50V51.02M798.05 48.66H799.05M799.05 47.30H800.05M800.58 44.48V52.99M799.58 47.30H800.58M800.58 49.73H801.58M802.12 47.97V52.89M801.12 49.73H802.12M802.12 51.17H803.12M803.65 48.50V55.80M802.65 51.17H803.65M803.65 52.58H804.65M805.18 49.54V57.41M804.18 52.58H805.18M805.18 53.86H806.18M806.72 52.93V59.12M805.72 53.86H806.72M806.72 57.40H807.72M808.25 56.03V63.43M807.25 57.40H808.25M808.25 59.77H809.25M809.78 56.94V73.40M808.78 59.77H809.78M809.78 70.16H810.78M811.31 67.47V86.49M810.31 70.16H811.31M811.31 83.79H812.31M812.85 80.83V93.00M811.85 83.79H812.85M812.85 89.75H813.85M814.38 86.83V92.61M813.38 89.75H814.38M814.38 88.28H815.38M815.91 79.63V89.37M814.91 88.28H815.91M815.91 82.79H816.91M817.45 75.55V85.99M816.45 82.79H817.45M817.45 76.45H818.45M818.98 73.30V78.38M817.98 76.45H818.98M818.98 76.12H819.98M820.51 72.89V79.91M819.51 76.12H820.51M820.51 77.38H821.51M822.04 75.66V87.50M821.04 77.38H822.04M822.04 81.60H823.04M823.58 77.94V84.38M822.58 81.60H823.58M823.58 80.06H824.58M825.11 72.50V82.61M824.11 80.06H825.11M825.11 77.32H826.11M826.64 76.16V83.42M825.64 77.32H826.64M826.64 80.11H827.64M828.18 76.47V91.91M827.18 80.11H828.18M828.18 89.73H829.18M829.71 87.75V102.71M828.71 89.73H829.71M829.71 100.09H830.71M831.24 96.25V113.09M830.24 100.09H831.24M831.24 110.82H832.24M832.77 109.72V121.68M831.77 110.82H832.77M832.77 118.89H833.77M834.31 117.64V133.00M833.31 118.89H834.31M834.31 128.41H835.31M835.84 110.00V129.56M834.84 128.41H835.84M835.84 116.33H836.84M837.37 115.27V124.28M836.37 116.33H837.37M837.37 120.79H838.37M838.91 119.95V132.34M837.91 120.79H838.91M838.91 129.31H839.91M840.44 126.24V144.94M839.44 129.31H840.44M840.44 143.58H841.44M841.97 140.38V157.00M840.97 143.58H841.97M841.97 147.57H842.97M843.50 136.27V148.62M842.50 147.57H843.50M843.50 139.33H844.50M845.04 130.00V141.55M844.04 139.33H845.04M845.04 133.72H846.04M846.57 132.15V148.00M845.57 133.72H846.57M846.57 143.65H847.57M848.10 139.31V144.48M847.10 143.65H848.10M848.10 140.13H849.10M849.64 130.00V141.16M848.64 140.13H849.64M849.64 134.38H850.64M851.17 131.33V139.94M850.17 134.38H851.17M851.17 138.64H852.17M852.70 136.34V144.65M851.70 138.64H852.70M852.70 143.69H853.70M854.23 141.11V150.29M853.23 143.69H854.23M854.23 148.14H855.23M855.77 146.91V158.00M854.77 148.14H855.77M855.77 155.18H856.77M857.30 150.50V157.93M856.30 155.18H857.30M857.30 153.29H858.30" stroke="#000" fill="none"/></defs>
<use href="#b1" stroke-width="1" shape-rendering="crispEdges"/>
<use href="#b1" stroke-width="1.3" opacity="0.75"/>
<path d="M17.30 231.28 L18.83 231.35 L20.37 231.63 L21.90 232.32 L23.43 233.07 L24.96 233.88 L26.50 235.11 L28.03 235.64 L29.56 235.70 L31.10 236.47 L32.63 237.43 L34.16 238.14 L35.69 239.43 L37.23 240.56 L38.76 241.65 L40.29 242.43 L41.83 243.24 L43.36 243.25 L44.89 242.75 L46.42 242.47 L47.96 242.76 L49.49 243.53 L51.02 247.10 L52.56 249.50 L54.09 251.95 L55.62 255.44 L57.15 260.61 L58.69 264.02 L60.22 263.50 L61.75 261.64 L63.29 260.54 L64.82 261.33 L66.35 262.70 L67.88 264.57 L69.42 266.83 L70.95 269.06 L72.48 271.33 L74.02 273.44 L75.55 275.07 L77.08 276.55 L78.61 277.72 L80.15 279.22 L81.68 280.36 L83.21 281.47 L84.75 282.66 L86.28 284.51 L87.81 284.10 L89.34 283.23 L90.88 283.46 L92.41 283.89 L93.94 284.76 L95.48 284.62 L97.01 283.96 L98.54 284.03 L100.07 284.32 L101.61 284.12 L103.14 281.58 L104.67 278.19 L106.21 273.66 L107.74 269.83 L109.27 267.18 L110.80 266.36 L112.34 265.98 L113.87 264.97 L115.40 263.85 L116.94 264.11 L118.47 264.96 L120.00 266.45 L121.53 268.25 L123.07 269.00 L124.60 269.76 L126.13 270.47 L127.66 270.46 L129.20 271.35 L130.73 272.74 L132.26 274.26 L133.80 276.48 L135.33 278.59 L136.86 279.61 L138.39 279.14 L139.93 278.07 L141.46 277.17 L142.99 275.77 L144.53 274.61 L146.06 273.16 L147.59 272.26 L149.12 272.03 L150.66 271.97 L152.19 270.82 L153.72 269.04 L155.26 267.46 L156.79 266.38 L158.32 265.56 L159.85 264.80 L161.39 263.40 L162.92 261.95 L164.45 259.49 L165.99 255.44 L167.52 250.15 L169.05 244.88 L170.58 240.06 L172.12 237.91 L173.65 236.73 L175.18 235.68 L176.72 233.81 L178.25 233.34 L179.78 233.58 L181.31 232.97 L182.85 232.15 L184.38 231.73 L185.91 230.67 L187.45 231.41 L188.98 233.52 L190.51 235.66 L192.04 237.95 L193.58 239.38 L195.11 240.80 L196.64 244.96 L198.18 247.73 L199.71 247.72 L201.24 246.42 L202.77 244.48 L204.31 243.06 L205.84 242.97 L207.37 243.62 L208.91 244.21 L210.44 245.44 L211.97 246.20 L213.50 246.79 L215.04 246.80 L216.57 246.26 L218.10 245.86 L219.64 245.12 L221.17 244.39 L222.70 244.41 L224.23 245.34 L225.77 244.63 L227.30 243.39 L228.83 240.95 L230.37 238.40 L231.90 236.59 L233.43 235.52 L234.96 234.28 L236.50 233.13 L238.03 232.93 L239.56 233.95 L241.10 236.03 L242.63 238.50 L244.16 241.23 L245.69 241.95 L247.23 241.67 L248.76 242.27 L250.29 243.69 L251.83 244.58 L253.36 243.87 L254.89 241.83 L256.42 239.78 L257.96 238.34 L259.49 237.37 L261.02 237.06 L262.56 236.84 L264.09 236.53 L265.62 237.11 L267.15 237.34 L268.69 236.05 L270.22 234.54 L271.75 232.50 L273.29 230.44 L274.82 227.85 L276.35 227.23 L277.88 227.46 L279.42 227.84 L280.95 229.25 L282.48 228.77 L284.02 227.38 L285.55 225.97 L287.08 223.80 L288.61 222.05 L290.15 222.35 L291.68 222.27 L293.21 220.23 L294.75 217.83 L296.28 215.37 L297.81 213.32 L299.34 212.09 L300.88 211.02 L302.41 209.69 L303.94 207.06 L305.48 203.60 L307.01 200.53 L308.54 199.32 L310.07 199.52 L311.61 199.57 L313.14 199.72 L314.67 202.08 L316.21 205.80 L317.74 210.17 L319.27 213.46 L320.80 216.56 L322.34 218.68 L323.87 220.98 L325.40 224.06 L326.94 226.88 L328.47 227.88 L330.00 227.87 L331.53 226.91 L333.07 225.77 L334.60 223.16 L336.13 219.18 L337.66 215.33 L339.20 212.55 L340.73 209.69 L342.26 208.26 L343.80 206.06 L345.33 204.08 L346.86 201.22 L348.39 199.43 L349.93 198.30 L351.46 199.43 L352.99 201.87 L354.53 204.33 L356.06 207.18 L357.59 209.34 L359.12 210.37 L360.66 210.62 L362.19 210.63 L363.72 209.14 L365.26 206.69 L366.79 206.48 L368.32 206.32 L369.85 206.27 L371.39 207.49 L372.92 208.90 L374.45 208.57 L375.99 208.08 L377.52 206.91 L379.05 205.61 L380.58 203.61 L382.12 201.68 L383.65 199.33 L385.18 197.22 L386.72 194.89 L388.25 192.92 L389.78 192.18 L391.31 192.06 L392.85 191.09 L394.38 190.15 L395.91 188.16 L397.45 184.95 L398.98 180.59 L400.51 179.86 L402.04 178.78 L403.58 178.50 L405.11 180.47 L406.64 183.48 L408.18 186.03 L409.71 187.62 L411.24 189.76 L412.77 192.24 L414.31 194.84 L415.84 196.86 L417.37 199.12 L418.91 201.34 L420.44 202.95 L421.97 204.38 L423.50 204.58 L425.04 203.92 L426.57 202.41 L428.10 201.52 L429.64 200.92 L431.17 199.60 L432.70 198.42 L434.23 197.65 L435.77 196.09 L437.30 195.07 L438.83 193.17 L440.37 191.10 L441.90 188.65 L443.43 187.06 L444.96 186.05 L446.50 186.39 L448.03 187.45 L449.56 188.23 L451.10 187.92 L452.63 186.30 L454.16 184.82 L455.69 182.40 L457.23 182.81 L458.76 184.61 L460.29 185.54 L461.83 186.71 L463.36 188.43 L464.89 189.00 L466.42 188.61 L467.96 187.73 L469.49 185.22 L471.02 181.67 L472.56 177.92 L474.09 175.57 L475.62 174.66 L477.15 173.86 L478.69 172.95 L480.22 171.38 L481.75 169.60 L483.29 168.23 L484.82 165.60 L486.35 164.34 L487.88 167.36 L489.42 170.89 L490.95 172.74 L492.48 173.28 L494.02 174.83 L495.55 175.08 L497.08 173.53 L498.61 172.34 L500.15 171.59 L501.68 173.45 L503.21 175.89 L504.75 176.78 L506.28 175.90 L507.81 173.93 L509.34 171.95 L510.88 170.95 L512.41 170.32 L513.94 169.80 L515.48 168.56 L517.01 167.99 L518.54 168.09 L520.07 166.44 L521.61 164.33 L523.14 162.68 L524.67 161.66 L526.21 161.90 L527.74 162.82 L529.27 164.68 L530.80 165.76 L532.34 166.05 L533.87 166.34 L535.40 166.90 L536.94 168.27 L538.47 170.87 L540.00 173.15 L541.53 174.11 L543.07 173.95 L544.60 173.24 L546.13 172.23 L547.66 170.95 L549.20 169.97 L550.73 169.21 L552.26 169.07 L553.80 169.37 L555.33 169.38 L556.86 169.81 L558.39 170.30 L559.93 171.46 L561.46 171.22 L562.99 170.97 L564.53 170.31 L566.06 168.39 L567.59 165.35 L569.12 162.54 L570.66 159.99 L572.19 158.52 L573.72 158.00 L575.26 158.99 L576.79 160.02 L578.32 160.95 L579.85 160.67 L581.39 159.28 L582.92 158.31 L584.45 158.28 L585.99 150.78 L587.52 142.69 L589.05 141.98 L590.58 141.33 L592.12 140.91 L593.65 141.50 L595.18 144.58 L596.72 148.18 L598.25 150.82 L599.78 152.05 L601.31 151.82 L602.85 152.31 L604.38 152.78 L605.91 153.87 L607.45 154.66 L608.98 156.06 L610.51 157.09 L612.04 156.95 L613.58 154.62 L615.11 151.27 L616.64 146.81 L618.18 141.32 L619.71 138.36 L621.24 137.04 L622.77 138.55 L624.31 142.16 L625.84 145.91 L627.37 148.44 L628.91 150.25 L630.44 150.30 L631.97 148.70 L633.50 148.35 L635.04 144.07 L636.57 137.12 L638.10 129.82 L639.64 125.34 L641.17 122.02 L642.70 119.80 L644.23 118.56 L645.77 118.81 L647.30 119.03 L648.83 116.67 L650.37 111.92 L651.90 108.28 L653.43 105.78 L654.96 104.77 L656.50 104.39 L658.03 103.40 L659.56 103.59 L661.10 104.37 L662.63 106.47 L664.16 107.47 L665.69 107.49 L667.23 107.36 L668.76 110.57 L670.29 115.55 L671.83 120.29 L673.36 124.02 L674.89 126.42 L676.42 127.66 L677.96 130.12 L679.49 132.36 L681.02 132.44 L682.56 131.81 L684.09 131.28 L685.62 130.35 L687.15 129.02 L688.69 126.73 L690.22 124.93 L691.75 122.25 L693.29 119.45 L694.82 115.91 L696.35 111.75 L697.88 105.84 L699.42 99.92 L700.95 94.16 L702.48 90.36 L704.02 90.67 L705.55 93.57 L707.08 94.50 L708.61 93.73 L710.15 92.64 L711.68 91.48 L713.21 91.14 L714.75 91.76 L716.28 90.51 L717.81 87.41 L719.34 83.86 L720.88 81.26 L722.41 78.80 L723.94 75.33 L725.48 69.50 L727.01 67.42 L728.54 67.58 L730.07 70.48 L731.61 76.65 L733.14 82.79 L734.67 87.63 L736.21 90.74 L737.74 93.38 L739.27 95.25 L740.80 94.94 L742.34 93.82 L743.87 93.37 L745.40 93.05 L746.94 92.56 L748.47 92.45 L750.00 92.91 L751.53 93.30 L753.07 95.36 L754.60 99.24 L756.13 102.64 L757.66 105.92 L759.20 107.84 L760.73 109.46 L762.26 110.17 L763.80 111.56 L765.33 113.08 L766.86 115.08 L768.39 116.17 L769.93 115.26 L771.46 113.05 L772.99 111.19 L774.53 109.19 L776.06 107.32 L777.59 104.60 L779.12 101.86 L780.66 98.98 L782.19 94.20 L783.72 89.43 L785.26 86.35 L786.79 85.50 L788.32 86.10 L789.85 85.16 L791.39 80.40 L792.92 72.03 L794.45 63.60 L795.99 58.78 L797.52 55.89 L799.05 53.44 L800.58 52.38 L802.12 52.03 L803.65 52.19 L805.18 52.67 L806.72 54.02 L808.25 55.66 L809.78 59.81 L811.31 66.66 L812.85 73.25 L814.38 77.55 L815.91 79.04 L817.45 78.30 L818.98 77.68 L820.51 77.59 L822.04 78.74 L823.58 79.12 L825.11 78.60 L826.64 79.03 L828.18 82.09 L829.71 87.23 L831.24 93.97 L832.77 101.09 L834.31 108.90 L835.84 111.02 L837.37 113.81 L838.91 118.24 L840.44 125.48 L841.97 131.79 L843.50 133.95 L845.04 133.88 L846.57 136.67 L848.10 137.66 L849.64 136.72 L851.17 137.27 L852.70 139.10 L854.23 141.69 L855.77 145.54 L857.30 147.76" stroke="#357F35" stroke-width="0.9" fill="none" opacity="0.95"/>
<path d="M17.30 231.28 L18.83 231.32 L20.37 231.50 L21.90 231.97 L23.43 232.51 L24.96 233.13 L26.50 234.04 L28.03 234.58 L29.56 234.81 L31.10 235.46 L32.63 236.25 L34.16 236.92 L35.69 237.96 L37.23 238.95 L38.76 239.94 L40.29 240.74 L41.83 241.56 L43.36 241.88 L44.89 241.81 L46.42 241.80 L47.96 242.11 L49.49 242.72 L51.02 245.14 L52.56 247.02 L54.09 249.03 L55.62 251.78 L57.15 255.74 L58.69 258.80 L60.22 259.41 L61.75 258.98 L63.29 258.76 L64.82 259.58 L66.35 260.77 L67.88 262.32 L69.42 264.16 L70.95 266.06 L72.48 268.06 L74.02 269.99 L75.55 271.66 L77.08 273.22 L78.61 274.57 L80.15 276.09 L81.68 277.39 L83.21 278.64 L84.75 279.91 L86.28 281.58 L87.81 281.86 L89.34 281.71 L90.88 282.14 L92.41 282.65 L93.94 283.43 L95.48 283.58 L97.01 283.35 L98.54 283.50 L100.07 283.78 L101.61 283.76 L103.14 282.21 L104.67 279.93 L106.21 276.73 L107.74 273.74 L109.27 271.34 L110.80 270.06 L112.34 269.15 L113.87 267.93 L115.40 266.68 L116.94 266.33 L118.47 266.47 L120.00 267.14 L121.53 268.16 L123.07 268.65 L124.60 269.20 L126.13 269.76 L127.66 269.88 L129.20 270.55 L130.73 271.58 L132.26 272.76 L133.80 274.45 L135.33 276.16 L136.86 277.25 L138.39 277.38 L139.93 277.02 L141.46 276.64 L142.99 275.84 L144.53 275.09 L146.06 274.08 L147.59 273.34 L149.12 273.00 L150.66 272.78 L152.19 271.90 L153.72 270.58 L155.26 269.29 L156.79 268.27 L158.32 267.40 L159.85 266.58 L161.39 265.37 L162.92 264.09 L164.45 262.13 L165.99 259.08 L167.52 255.05 L169.05 250.80 L170.58 246.66 L172.12 244.09 L173.65 242.22 L175.18 240.55 L176.72 238.48 L178.25 237.33 L179.78 236.75 L181.31 235.79 L182.85 234.76 L184.38 234.01 L185.91 232.92 L187.45 232.98 L188.98 234.04 L190.51 235.31 L192.04 236.83 L193.58 237.94 L195.11 239.11 L196.64 242.06 L198.18 244.35 L199.71 244.96 L201.24 244.64 L202.77 243.72 L204.31 242.96 L205.84 242.92 L207.37 243.34 L208.91 243.77 L210.44 244.63 L211.97 245.26 L213.50 245.81 L215.04 245.99 L216.57 245.79 L218.10 245.63 L219.64 245.20 L221.17 244.72 L222.70 244.67 L224.23 245.22 L225.77 244.79 L227.30 243.97 L228.83 242.31 L230.37 240.44 L231.90 238.92 L233.43 237.81 L234.96 236.61 L236.50 235.45 L238.03 234.90 L239.56 235.19 L241.10 236.29 L242.63 237.82 L244.16 239.68 L245.69 240.42 L247.23 240.52 L248.76 241.11 L250.29 242.22 L251.83 243.05 L253.36 242.88 L254.89 241.77 L256.42 240.47 L257.96 239.43 L259.49 238.61 L261.02 238.19 L262.56 237.84 L264.09 237.46 L265.62 237.66 L267.15 237.71 L268.69 236.82 L270.22 235.72 L271.75 234.21 L273.29 232.58 L274.82 230.55 L276.35 229.66 L277.88 229.37 L279.42 229.26 L280.95 229.90 L282.48 229.48 L284.02 228.46 L285.55 227.37 L287.08 225.73 L288.61 224.27 L290.15 224.06 L291.68 223.69 L293.21 222.14 L294.75 220.26 L296.28 218.25 L297.81 216.42 L299.34 215.08 L300.88 213.86 L302.41 212.49 L303.94 210.31 L305.48 207.51 L307.01 204.85 L308.54 203.29 L310.07 202.70 L311.61 202.15 L313.14 201.78 L314.67 202.91 L316.21 205.12 L317.74 208.03 L319.27 210.51 L320.80 213.02 L322.34 215.01 L323.87 217.14 L325.40 219.80 L326.94 222.37 L328.47 223.83 L330.00 224.55 L331.53 224.55 L333.07 224.25 L334.60 222.87 L336.13 220.39 L337.66 217.72 L339.20 215.52 L340.73 213.16 L342.26 211.61 L343.80 209.60 L345.33 207.70 L346.86 205.22 L348.39 203.35 L349.93 201.93 L351.46 201.99 L352.99 203.07 L354.53 204.42 L356.06 206.22 L357.59 207.77 L359.12 208.70 L360.66 209.17 L362.19 209.44 L363.72 208.71 L365.26 207.23 L366.79 207.00 L368.32 206.80 L369.85 206.68 L371.39 207.38 L372.92 208.30 L374.45 208.20 L375.99 207.96 L377.52 207.23 L379.05 206.35 L380.58 204.94 L382.12 203.47 L383.65 201.65 L385.18 199.89 L386.72 197.91 L388.25 196.11 L389.78 195.06 L391.31 194.46 L392.85 193.41 L394.38 192.39 L395.91 190.71 L397.45 188.21 L398.98 184.84 L400.51 183.60 L402.04 182.23 L403.58 181.43 L405.11 182.15 L406.64 183.76 L408.18 185.33 L409.71 186.47 L411.24 188.04 L412.77 189.93 L414.31 192.00 L415.84 193.81 L417.37 195.80 L418.91 197.82 L420.44 199.48 L421.97 201.02 L423.50 201.76 L425.04 201.85 L426.57 201.27 L428.10 200.91 L429.64 200.64 L431.17 199.85 L432.70 199.05 L434.23 198.45 L435.77 197.31 L437.30 196.44 L438.83 194.98 L440.37 193.34 L441.90 191.37 L443.43 189.86 L444.96 188.71 L446.50 188.44 L448.03 188.74 L449.56 189.00 L451.10 188.67 L452.63 187.50 L454.16 186.34 L455.69 184.52 L457.23 184.40 L458.76 185.25 L460.29 185.73 L461.83 186.44 L463.36 187.58 L464.89 188.10 L466.42 188.02 L467.96 187.57 L469.49 186.00 L471.02 183.60 L472.56 180.86 L474.09 178.83 L475.62 177.66 L477.15 176.61 L478.69 175.53 L480.22 174.06 L481.75 172.44 L483.29 171.05 L484.82 168.86 L486.35 167.47 L487.88 168.82 L489.42 170.80 L490.95 172.00 L492.48 172.47 L494.02 173.61 L495.55 173.99 L497.08 173.20 L498.61 172.50 L500.15 172.00 L501.68 173.11 L503.21 174.72 L504.75 175.50 L506.28 175.18 L507.81 174.05 L509.34 172.77 L510.88 171.99 L512.41 171.40 L513.94 170.87 L515.48 169.89 L517.01 169.28 L518.54 169.11 L520.07 167.88 L521.61 166.27 L523.14 164.87 L524.67 163.82 L526.21 163.58 L527.74 163.86 L529.27 164.85 L530.80 165.51 L532.34 165.74 L533.87 165.98 L535.40 166.40 L536.94 167.37 L538.47 169.18 L540.00 170.94 L541.53 171.96 L543.07 172.24 L544.60 172.10 L546.13 171.67 L547.66 170.96 L549.20 170.33 L550.73 169.78 L552.26 169.59 L553.80 169.68 L555.33 169.64 L556.86 169.86 L558.39 170.16 L559.93 170.92 L561.46 170.87 L562.99 170.78 L564.53 170.39 L566.06 169.16 L567.59 167.08 L569.12 164.98 L570.66 162.91 L572.19 161.45 L573.72 160.58 L575.26 160.74 L576.79 161.08 L578.32 161.48 L579.85 161.20 L581.39 160.22 L582.92 159.43 L584.45 159.21 L585.99 154.27 L587.52 148.49 L589.05 146.98 L590.58 145.66 L592.12 144.60 L593.65 144.31 L595.18 145.76 L596.72 147.83 L598.25 149.57 L599.78 150.58 L601.31 150.70 L602.85 151.22 L604.38 151.71 L605.91 152.61 L607.45 153.34 L608.98 154.47 L610.51 155.41 L612.04 155.63 L613.58 154.39 L615.11 152.30 L616.64 149.27 L618.18 145.33 L619.71 142.72 L621.24 141.08 L622.77 141.31 L624.31 143.11 L625.84 145.32 L627.37 147.04 L628.91 148.45 L630.44 148.81 L631.97 148.06 L633.50 147.95 L635.04 145.30 L636.57 140.65 L638.10 135.37 L639.64 131.51 L641.17 128.27 L642.70 125.72 L644.23 123.86 L645.77 123.05 L647.30 122.42 L648.83 120.30 L650.37 116.62 L651.90 113.45 L653.43 110.92 L654.96 109.34 L656.50 108.27 L658.03 106.93 L659.56 106.41 L661.10 106.40 L662.63 107.36 L664.16 107.84 L665.69 107.78 L667.23 107.65 L668.76 109.64 L670.29 112.98 L671.83 116.46 L673.36 119.53 L674.89 121.88 L676.42 123.49 L677.96 125.81 L679.49 128.02 L681.02 128.86 L682.56 129.11 L684.09 129.26 L685.62 129.04 L687.15 128.43 L688.69 127.08 L690.22 125.87 L691.75 123.99 L693.29 121.89 L694.82 119.20 L696.35 115.96 L697.88 111.43 L699.42 106.65 L700.95 101.75 L702.48 97.96 L704.02 96.77 L705.55 97.51 L707.08 97.39 L708.61 96.37 L710.15 95.20 L711.68 93.99 L713.21 93.32 L714.75 93.32 L716.28 92.24 L717.81 89.95 L719.34 87.23 L720.88 84.96 L722.41 82.73 L723.94 79.80 L725.48 75.28 L727.01 72.90 L728.54 72.01 L730.07 73.05 L731.61 76.51 L733.14 80.44 L734.67 83.95 L736.21 86.60 L737.74 89.03 L739.27 91.01 L740.80 91.59 L742.34 91.48 L743.87 91.62 L745.40 91.74 L746.94 91.66 L748.47 91.76 L750.00 92.17 L751.53 92.56 L753.07 94.00 L754.60 96.72 L756.13 99.34 L757.66 102.03 L759.20 103.96 L760.73 105.70 L762.26 106.83 L763.80 108.32 L765.33 109.88 L766.86 111.74 L768.39 113.04 L769.93 113.03 L771.46 112.02 L772.99 111.03 L774.53 109.79 L776.06 108.49 L777.59 106.55 L779.12 104.45 L780.66 102.15 L782.19 98.53 L783.72 94.70 L785.26 91.78 L786.79 90.26 L788.32 89.77 L789.85 88.51 L791.39 84.87 L792.92 78.73 L794.45 72.15 L795.99 67.53 L797.52 64.10 L799.05 61.04 L800.58 58.99 L802.12 57.57 L803.65 56.66 L805.18 56.15 L806.72 56.38 L808.25 56.99 L809.78 59.39 L811.31 63.82 L812.85 68.54 L814.38 72.13 L815.91 74.07 L817.45 74.50 L818.98 74.79 L820.51 75.26 L822.04 76.42 L823.58 77.08 L825.11 77.12 L826.64 77.67 L828.18 79.86 L829.71 83.54 L831.24 88.50 L832.77 94.02 L834.31 100.27 L835.84 103.19 L837.37 106.39 L838.91 110.56 L840.44 116.56 L841.97 122.20 L843.50 125.32 L845.04 126.84 L846.57 129.90 L848.10 131.76 L849.64 132.24 L851.17 133.40 L852.70 135.27 L854.23 137.61 L855.77 140.81 L857.30 143.08" stroke="#7A60D4" stroke-width="1.15" fill="none" opacity="1"/>
</g>
<rect x="857.6" y="510.6" width="3" height="6" fill="#F1F060" opacity="0.85"/>
<g clip-path="url(#c2)">
<defs><path id="b2" d="M17.30 457.84V459.66M16.30 458.63H17.30M17.30 458.55H18.30M18.83 451.23V459.29M17.83 458.55H18.83M18.83 451.90H19.83M20.37 449.94V452.67M19.37 451.90H20.37M20.37 450.61H21.37M21.90 450.31V451.30M20.90 450.61H21.90M21.90 450.81H22.90M23.43 447.14V451.64M22.43 450.81H23.43M23.43 448.07H24.43M24.96 444.86V449.14M23.96 448.07H24.96M24.96 445.94H25.96M26.50 444.07V446.30M25.50 445.94H26.50M26.50 444.84H27.50M28.03 440.50V445.11M27.03 444.84H28.03M28.03 441.19H29.03M29.56 440.75V447.23M28.56 441.19H29.56M29.56 446.98H30.56M31.10 445.01V447.94M30.10 446.98H31.10M31.10 445.61H32.10M32.63 442.37V446.27M31.63 445.61H32.63M32.63 443.15H33.63M34.16 440.08V443.62M33.16 443.15H34.16M34.16 440.70H35.16M35.69 437.10V441.66M34.69 440.70H35.69M35.69 438.20H36.69M37.23 435.78V438.62M36.23 438.20H37.23M37.23 436.27H38.23M38.76 434.78V437.17M37.76 436.27H38.76M38.76 435.06H39.76M40.29 433.97V435.62M39.29 435.06H40.29M40.29 434.93H41.29M41.83 433.96V436.60M40.83 434.93H41.83M41.83 436.38H42.83M43.36 434.61V437.01M42.36 436.38H43.36M43.36 435.63H44.36M44.89 435.06V438.14M43.89 435.63H44.89M44.89 437.86H45.89M46.42 436.95V438.67M45.42 437.86H46.42M46.42 438.22H47.42M47.96 434.56V439.29M46.96 438.22H47.96M47.96 435.07H48.96M49.49 433.87V435.51M48.49 435.07H49.49M49.49 434.20H50.49M51.02 413.28V435.12M50.02 434.20H51.02M51.02 413.55H52.02M52.56 408.72V414.16M51.56 413.55H52.56M52.56 409.43H53.56M54.09 407.82V409.77M53.09 409.43H54.09M54.09 408.69H55.09M55.62 405.56V409.28M54.62 408.69H55.62M55.62 405.89H56.62M57.15 366.56V406.96M56.15 405.89H57.15M57.15 367.02H58.15M58.69 366.53V369.01M57.69 367.02H58.69M58.69 368.01H59.69M60.22 367.44V397.37M59.22 368.01H60.22M60.22 396.40H61.22M61.75 396.09V411.35M60.75 396.40H61.75M61.75 410.26H62.75M63.29 409.81V422.92M62.29 410.26H63.29M63.29 422.02H64.29M64.82 410.53V422.30M63.82 422.02H64.82M64.82 411.01H65.82M66.35 398.45V411.44M65.35 411.01H66.35M66.35 399.18H67.35M67.88 391.47V399.80M66.88 399.18H67.88M67.88 392.01H68.88M69.42 382.68V392.74M68.42 392.01H69.42M69.42 383.33H70.42M70.95 371.05V383.69M69.95 383.33H70.95M70.95 371.43H71.95M72.48 364.75V371.87M71.48 371.43H72.48M72.48 365.69H73.48M74.02 364.82V373.03M73.02 365.69H74.02M74.02 371.98H75.02M75.55 364.94V372.98M74.55 371.98H75.55M75.55 366.00H76.55M77.08 359.12V366.31M76.08 366.00H77.08M77.08 359.71H78.08M78.61 352.49V360.14M77.61 359.71H78.61M78.61 353.56H79.61M80.15 349.90V354.50M79.15 353.56H80.15M80.15 350.34H81.15M81.68 349.87V365.54M80.68 350.34H81.68M81.68 365.16H82.68M83.21 344.56V365.58M82.21 365.16H83.21M83.21 344.84H84.21M84.75 339.77V345.60M83.75 344.84H84.75M84.75 340.74H85.75M86.28 330.62V341.14M85.28 340.74H86.28M86.28 331.64H87.28M87.81 325.56V332.25M86.81 331.64H87.81M87.81 326.01H88.81M89.34 325.64V361.06M88.34 326.01H89.34M89.34 360.51H90.34M90.88 350.22V361.05M89.88 360.51H90.88M90.88 350.55H91.88M92.41 330.82V351.35M91.41 350.55H92.41M92.41 331.91H93.41M93.94 331.17V338.39M92.94 331.91H93.94M93.94 338.05H94.94M95.48 337.81V347.62M94.48 338.05H95.48M95.48 346.59H96.48M97.01 345.53V355.59M96.01 346.59H97.01M97.01 355.35H98.01M98.54 354.70V358.59M97.54 355.35H98.54M98.54 357.73H99.54M100.07 338.60V358.02M99.07 357.73H100.07M100.07 339.70H101.07M101.61 338.83V352.16M100.61 339.70H101.61M101.61 351.14H102.61M103.14 350.30V368.52M102.14 351.14H103.14M103.14 367.61H104.14M104.67 367.08V381.73M103.67 367.61H104.67M104.67 380.90H105.67M106.21 379.92V403.04M105.21 380.90H106.21M106.21 402.46H107.21M107.74 401.48V406.21M106.74 402.46H107.74M107.74 405.49H108.74M109.27 401.48V406.22M108.27 405.49H109.27M109.27 402.03H110.27M110.80 397.88V402.82M109.80 402.03H110.80M110.80 398.17H111.80M112.34 394.83V399.03M111.34 398.17H112.34M112.34 395.83H113.34M113.87 394.96V400.78M112.87 395.83H113.87M113.87 400.05H114.87M115.40 399.09V403.50M114.40 400.05H115.40M115.40 403.20H116.40M116.94 402.96V406.17M115.94 403.20H116.94M116.94 405.42H117.94M118.47 395.67V406.25M117.47 405.42H118.47M118.47 396.10H119.47M120.00 387.09V397.13M119.00 396.10H120.00M120.00 387.85H121.00M121.53 375.61V388.33M120.53 387.85H121.53M121.53 375.84H122.53M123.07 375.44V384.42M122.07 375.84H123.07M123.07 384.05H124.07M124.60 382.36V384.66M123.60 384.05H124.60M124.60 383.16H125.60M126.13 380.15V383.96M125.13 383.16H126.13M126.13 380.66H127.13M127.66 380.06V381.84M126.66 380.66H127.66M127.66 380.91H128.66M129.20 379.91V383.75M128.20 380.91H129.20M129.20 383.20H130.20M130.73 376.20V383.54M129.73 383.20H130.73M130.73 376.70H131.73M132.26 369.69V377.66M131.26 376.70H132.26M132.26 370.65H133.26M133.80 360.83V371.11M132.80 370.65H133.80M133.80 361.88H134.80M135.33 350.30V362.34M134.33 361.88H135.33M135.33 350.92H136.33M136.86 345.19V351.69M135.86 350.92H136.86M136.86 345.77H137.86M138.39 345.27V354.17M137.39 345.77H138.39M138.39 353.21H139.39M139.93 352.60V362.83M138.93 353.21H139.93M139.93 362.54H140.93M141.46 361.55V368.67M140.46 362.54H141.46M141.46 368.42H142.46M142.99 367.69V376.57M141.99 368.42H142.99M142.99 376.07H143.99M144.53 375.84V382.68M143.53 376.07H144.53M144.53 382.34H145.53M146.06 382.10V385.95M145.06 382.34H146.06M146.06 385.00H147.06M147.59 384.65V387.32M146.59 385.00H147.59M147.59 387.06H148.59M149.12 381.48V387.83M148.12 387.06H149.12M149.12 382.09H150.12M150.66 376.83V383.16M149.66 382.09H150.66M150.66 377.76H151.66M152.19 377.37V383.42M151.19 377.76H152.19M152.19 382.78H153.19M153.72 382.56V392.42M152.72 382.78H153.72M153.72 391.79H154.72M155.26 391.41V400.82M154.26 391.79H155.26M155.26 400.36H156.26M156.79 395.68V401.04M155.79 400.36H156.79M156.79 396.52H157.79M158.32 393.28V397.08M157.32 396.52H158.32M158.32 394.16H159.32M159.85 391.97V394.46M158.85 394.16H159.85M159.85 392.99H160.85M161.39 392.13V398.20M160.39 392.99H161.39M161.39 397.86H162.39M162.92 397.09V407.93M161.92 397.86H162.92M162.92 406.91H163.92M164.45 406.19V414.64M163.45 406.91H164.45M164.45 413.65H165.45M165.99 412.60V422.92M164.99 413.65H165.99M165.99 422.30H166.99M167.52 421.90V433.43M166.52 422.30H167.52M167.52 432.57H168.52M169.05 431.79V446.19M168.05 432.57H169.05M169.05 445.34H170.05M170.58 444.33V450.77M169.58 445.34H170.58M170.58 449.69H171.58M172.12 449.00V459.22M171.12 449.69H172.12M172.12 458.30H173.12M173.65 448.68V459.28M172.65 458.30H173.65M173.65 449.70H174.65M175.18 449.41V453.27M174.18 449.70H175.18M175.18 452.66H176.18M176.72 451.77V456.98M175.72 452.66H176.72M176.72 456.33H177.72M178.25 448.28V456.61M177.25 456.33H178.25M178.25 449.21H179.25M179.78 447.63V449.73M178.78 449.21H179.78M179.78 448.00H180.78M181.31 447.66V454.62M180.31 448.00H181.31M181.31 454.27H182.31M182.85 453.41V455.54M181.85 454.27H182.85M182.85 454.58H183.85M184.38 453.52V455.34M183.38 454.58H184.38M184.38 454.69H185.38M185.91 453.30V455.10M184.91 454.69H185.91M185.91 453.59H186.91M187.45 450.36V454.45M186.45 453.59H187.45M187.45 450.84H188.45M188.98 422.99V452.32M187.98 450.84H188.98M188.98 424.04H189.98M190.51 423.28V430.98M189.51 424.04H190.51M190.51 430.13H191.51M192.04 422.91V430.75M191.04 430.13H192.04M192.04 424.48H193.04M193.58 422.82V427.16M192.58 424.48H193.58M193.58 426.10H194.58M195.11 425.49V428.72M194.11 426.10H195.11M195.11 427.65H196.11M196.64 423.88V428.03M195.64 427.65H196.64M196.64 425.04H197.64M198.18 422.34V425.93M197.18 425.04H198.18M198.18 423.38H199.18M199.71 418.28V424.39M198.71 423.38H199.71M199.71 419.38H200.71M201.24 418.95V426.43M200.24 419.38H201.24M201.24 425.36H202.24M202.77 423.72V433.40M201.77 425.36H202.77M202.77 431.80H203.77M204.31 430.82V436.28M203.31 431.80H204.31M204.31 435.77H205.31M205.84 426.10V437.33M204.84 435.77H205.84M205.84 427.55H206.84M207.37 421.68V428.15M206.37 427.55H207.37M207.37 422.45H208.37M208.91 420.85V426.08M207.91 422.45H208.91M208.91 425.56H209.91M210.44 425.19V428.69M209.44 425.56H210.44M210.44 428.09H211.44M211.97 416.90V428.86M210.97 428.09H211.97M211.97 418.18H212.97M213.50 416.99V420.94M212.50 418.18H213.50M213.50 420.45H214.50M215.04 419.95V425.34M214.04 420.45H215.04M215.04 424.31H216.04M216.57 423.70V427.43M215.57 424.31H216.57M216.57 426.37H217.57M218.10 425.52V429.52M217.10 426.37H218.10M218.10 428.62H219.10M219.64 423.98V429.24M218.64 428.62H219.64M219.64 424.54H220.64M221.17 421.92V425.60M220.17 424.54H221.17M221.17 423.13H222.17M222.70 420.82V424.63M221.70 423.13H222.70M222.70 421.99H223.70M224.23 420.64V424.94M223.23 421.99H224.23M224.23 423.50H225.23M225.77 422.73V430.17M224.77 423.50H225.77M225.77 429.40H226.77M227.30 428.76V435.74M226.30 429.40H227.30M227.30 434.04H228.30M228.83 433.52V441.06M227.83 434.04H228.83M228.83 440.40H229.83M230.37 439.70V445.30M229.37 440.40H230.37M230.37 444.83H231.37M231.90 443.92V448.36M230.90 444.83H231.90M231.90 446.95H232.90M233.43 438.33V448.22M232.43 446.95H233.43M233.43 439.21H234.43M234.96 438.60V442.83M233.96 439.21H234.96M234.96 441.56H235.96M236.50 439.90V445.64M235.50 441.56H236.50M236.50 445.15H237.50M238.03 441.32V446.17M237.03 445.15H238.03M238.03 442.69H239.03M239.56 435.92V443.13M238.56 442.69H239.56M239.56 436.51H240.56M241.10 431.84V437.60M240.10 436.51H241.10M241.10 432.23H242.10M242.63 428.60V432.77M241.63 432.23H242.63M242.63 429.71H243.63M244.16 423.72V431.19M243.16 429.71H244.16M244.16 424.34H245.16M245.69 422.74V432.47M244.69 424.34H245.69M245.69 432.00H246.69M247.23 430.37V433.19M246.23 432.00H247.23M247.23 432.22H248.23M248.76 430.29V433.19M247.76 432.22H248.76M248.76 431.07H249.76M250.29 422.86V432.23M249.29 431.07H250.29M250.29 423.78H251.29M251.83 422.49V428.36M250.83 423.78H251.83M251.83 426.87H252.83M253.36 425.91V433.36M252.36 426.87H253.36M253.36 432.01H254.36M254.89 431.41V437.40M253.89 432.01H254.89M254.89 436.83H255.89M256.42 436.47V442.83M255.42 436.83H256.42M256.42 441.28H257.42M257.96 439.63V442.79M256.96 441.28H257.96M257.96 440.93H258.96M259.49 438.14V442.08M258.49 440.93H259.49M259.49 439.03H260.49M261.02 437.36V440.95M260.02 439.03H261.02M261.02 439.52H262.02M262.56 437.22V440.87M261.56 439.52H262.56M262.56 438.80H263.56M264.09 436.53V439.69M263.09 438.80H264.09M264.09 437.97H265.09M265.62 435.55V439.26M264.62 437.97H265.62M265.62 437.08H266.62M267.15 435.70V440.93M266.15 437.08H267.15M267.15 440.04H268.15M268.69 439.61V443.65M267.69 440.04H268.69M268.69 442.84H269.69M270.22 442.49V445.76M269.22 442.84H270.22M270.22 444.93H271.22M271.75 443.75V445.95M270.75 444.93H271.75M271.75 445.29H272.75M273.29 444.05V449.09M272.29 445.29H273.29M273.29 448.29H274.29M274.82 447.18V453.90M273.82 448.29H274.82M274.82 452.84H275.82M276.35 446.35V454.05M275.35 452.84H276.35M276.35 448.05H277.35M277.88 444.41V449.72M276.88 448.05H277.88M277.88 445.79H278.88M279.42 441.57V447.13M278.42 445.79H279.42M279.42 442.75H280.42M280.95 441.86V444.86M279.95 442.75H280.95M280.95 444.45H281.95M282.48 443.60V446.07M281.48 444.45H282.48M282.48 445.60H283.48M284.02 444.02V450.60M283.02 445.60H284.02M284.02 449.52H285.02M285.55 447.86V454.31M284.55 449.52H285.55M285.55 453.20H286.55M287.08 451.99V457.58M286.08 453.20H287.08M287.08 456.14H288.08M288.61 454.21V457.51M287.61 456.14H288.61M288.61 455.36H289.61M290.15 447.44V455.92M289.15 455.36H290.15M290.15 449.04H291.15M291.68 448.47V453.17M290.68 449.04H291.68M291.68 452.15H292.68M293.21 451.73V457.39M292.21 452.15H293.21M293.21 455.76H294.21M294.75 454.71V460.35M293.75 455.76H294.75M294.75 459.20H295.75M296.28 458.47V464.14M295.28 459.20H296.28M296.28 462.91H297.28M297.81 462.19V467.54M296.81 462.91H297.81M297.81 466.22H298.81M299.34 464.54V466.90M298.34 466.22H299.34M299.34 464.90H300.34M300.88 464.18V468.00M299.88 464.90H300.88M300.88 466.23H301.88M302.41 464.21V472.55M301.41 466.23H302.41M302.41 470.79H303.41M303.94 468.61V477.46M302.94 470.79H303.94M303.94 475.35H304.94M305.48 473.32V481.49M304.48 475.35H305.48M305.48 480.29H306.48M307.01 478.14V485.82M306.01 480.29H307.01M307.01 484.95H308.01M308.54 478.34V486.66M307.54 484.95H308.54M308.54 480.43H309.54M310.07 474.41V482.30M309.07 480.43H310.07M310.07 476.57H311.07M311.61 473.92V478.11M310.61 476.57H311.61M311.61 474.56H312.61M313.14 470.01V475.09M312.14 474.56H313.14M313.14 470.81H314.14M314.67 466.21V472.03M313.67 470.81H314.67M314.67 466.87H315.67M316.21 459.79V467.77M315.21 466.87H316.21M316.21 461.03H317.21M317.74 455.39V462.84M316.74 461.03H317.74M317.74 456.57H318.74M319.27 451.96V458.68M318.27 456.57H319.27M319.27 454.16H320.27M320.80 452.73V454.80M319.80 454.16H320.80M320.80 453.59H321.80M322.34 451.00V455.13M321.34 453.59H322.34M322.34 452.82H323.34M323.87 448.48V454.47M322.87 452.82H323.87M323.87 449.40H324.87M325.40 445.37V450.95M324.40 449.40H325.40M325.40 446.86H326.40M326.94 441.76V447.73M325.94 446.86H326.94M326.94 442.53H327.94M328.47 440.48V446.64M327.47 442.53H328.47M328.47 444.65H329.47M330.00 444.11V446.20M329.00 444.65H330.00M330.00 445.28H331.00M331.53 443.75V450.55M330.53 445.28H331.53M331.53 449.93H332.53M333.07 449.36V454.60M332.07 449.93H333.07M333.07 454.00H334.07M334.60 452.59V459.67M333.60 454.00H334.60M334.60 458.12H335.60M336.13 456.84V463.82M335.13 458.12H336.13M336.13 463.01H337.13M337.66 461.26V470.26M336.66 463.01H337.66M337.66 468.34H338.66M339.20 466.36V470.20M338.20 468.34H339.20M339.20 467.01H340.20M340.73 465.21V469.67M339.73 467.01H340.73M340.73 468.86H341.73M342.26 467.96V472.60M341.26 468.86H342.26M342.26 470.74H343.26M343.80 469.15V475.75M342.80 470.74H343.80M343.80 473.57H344.80M345.33 472.16V478.32M344.33 473.57H345.33M345.33 476.57H346.33M346.86 475.38V482.10M345.86 476.57H346.86M346.86 481.01H347.86M348.39 479.03V482.23M347.39 481.01H348.39M348.39 481.65H349.39M349.93 473.44V482.95M348.93 481.65H349.93M349.93 474.88H350.93M351.46 470.29V476.68M350.46 474.88H351.46M351.46 471.26H352.46M352.99 464.56V472.86M351.99 471.26H352.99M352.99 465.38H353.99M354.53 461.34V467.10M353.53 465.38H354.53M354.53 462.32H355.53M356.06 460.50V463.01M355.06 462.32H356.06M356.06 461.44H357.06M357.59 458.43V462.53M356.59 461.44H357.59M357.59 460.15H358.59M359.12 457.88V461.59M358.12 460.15H359.12M359.12 459.57H360.12M360.66 457.48V464.83M359.66 459.57H360.66M360.66 462.79H361.66M362.19 460.93V465.70M361.19 462.79H362.19M362.19 464.72H363.19M363.72 463.58V470.39M362.72 464.72H363.72M363.72 468.30H364.72M365.26 467.42V472.91M364.26 468.30H365.26M365.26 471.84H366.26M366.79 470.76V473.35M365.79 471.84H366.79M366.79 472.22H367.79M368.32 466.30V473.65M367.32 472.22H368.32M368.32 467.08H369.32M369.85 462.72V469.00M368.85 467.08H369.85M369.85 464.11H370.85M371.39 459.38V465.89M370.39 464.11H371.39M371.39 460.13H372.39M372.92 459.20V463.78M371.92 460.13H372.92M372.92 463.31H373.92M374.45 461.91V466.28M373.45 463.31H374.45M374.45 464.84H375.45M375.99 463.25V469.94M374.99 464.84H375.99M375.99 468.08H376.99M377.52 466.68V471.58M376.52 468.08H377.52M377.52 469.76H378.52M379.05 469.17V475.07M378.05 469.76H379.05M379.05 473.33H380.05M380.58 472.74V478.90M379.58 473.33H380.58M380.58 477.34H381.58M382.12 475.59V479.64M381.12 477.34H382.12M382.12 478.05H383.12M383.65 477.23V482.35M382.65 478.05H383.65M383.65 480.57H384.65M385.18 478.78V484.58M384.18 480.57H385.18M385.18 483.45H386.18M386.72 481.30V486.28M385.72 483.45H386.72M386.72 484.66H387.72M388.25 481.60V486.37M387.25 484.66H388.25M388.25 482.99H389.25M389.78 480.37V484.15M388.78 482.99H389.78M389.78 482.42H390.78M391.31 480.45V484.36M390.31 482.42H391.31M391.31 482.06H392.31M392.85 480.16V487.09M391.85 482.06H392.85M392.85 485.09H393.85M394.38 483.52V489.52M393.38 485.09H394.38M394.38 488.16H395.38M395.91 486.30V491.12M394.91 488.16H395.91M395.91 489.94H396.91M397.45 489.24V494.99M396.45 489.94H397.45M397.45 493.25H398.45M398.98 492.15V504.27M397.98 493.25H398.98M398.98 503.53H399.98M400.51 498.67V504.49M399.51 503.53H400.51M400.51 499.86H401.51M402.04 497.88V500.84M401.04 499.86H402.04M402.04 498.42H403.04M403.58 492.74V500.23M402.58 498.42H403.58M403.58 494.33H404.58M405.11 491.31V495.57M404.11 494.33H405.11M405.11 491.86H406.11M406.64 487.60V492.36M405.64 491.86H406.64M406.64 489.64H407.64M408.18 486.58V490.46M407.18 489.64H408.18M408.18 487.34H409.18M409.71 484.72V488.83M408.71 487.34H409.71M409.71 486.42H410.71M411.24 481.80V487.36M410.24 486.42H411.24M411.24 482.57H412.24M412.77 478.40V483.55M411.77 482.57H412.77M412.77 480.18H413.77M414.31 478.30V481.48M413.31 480.18H414.31M414.31 480.20H415.31M415.84 476.83V482.25M414.84 480.20H415.84M415.84 478.83H416.84M417.37 476.64V480.95M416.37 478.83H417.37M417.37 478.05H418.37M418.91 475.98V478.57M417.91 478.05H418.91M418.91 476.81H419.91M420.44 472.99V477.93M419.44 476.81H420.44M420.44 474.84H421.44M421.97 467.46V475.77M420.97 474.84H421.97M421.97 468.81H422.97M423.50 467.21V474.40M422.50 468.81H423.50M423.50 473.55H424.50M425.04 472.27V477.93M424.04 473.55H425.04M425.04 476.83H426.04M426.57 475.14V485.88M425.57 476.83H426.57M426.57 484.37H427.57M428.10 481.21V485.38M427.10 484.37H428.10M428.10 481.93H429.10M429.64 478.77V483.28M428.64 481.93H429.64M429.64 480.74H430.64M431.17 478.56V484.95M430.17 480.74H431.17M431.17 484.04H432.17M432.70 483.34V485.99M431.70 484.04H432.70M432.70 484.20H433.70M434.23 480.20V486.13M433.23 484.20H434.23M434.23 482.09H435.23M435.77 481.50V484.61M434.77 482.09H435.77M435.77 483.69H436.77M437.30 483.08V487.70M436.30 483.69H437.30M437.30 486.42H438.30M438.83 484.29V490.24M437.83 486.42H438.83M438.83 488.77H439.83M440.37 487.79V492.95M439.37 488.77H440.37M440.37 491.12H441.37M441.90 489.06V492.65M440.90 491.12H441.90M441.90 492.05H442.90M443.43 491.24V497.08M442.43 492.05H443.43M443.43 495.69H444.43M444.96 490.09V497.59M443.96 495.69H444.96M444.96 490.80H445.96M446.50 484.74V491.38M445.50 490.80H446.50M446.50 485.73H447.50M448.03 483.69V487.43M447.03 485.73H448.03M448.03 484.95H449.03M449.56 483.30V486.55M448.56 484.95H449.56M449.56 485.92H450.56M451.10 484.67V490.44M450.10 485.92H451.10M451.10 488.30H452.10M452.63 486.71V491.97M451.63 488.30H452.63M452.63 491.51H453.63M454.16 489.82V495.67M453.16 491.51H454.16M454.16 494.81H455.16M455.69 493.57V505.59M454.69 494.81H455.69M455.69 505.13H456.69M457.23 492.58V505.94M456.23 505.13H457.23M457.23 494.43H458.23M458.76 489.91V495.53M457.76 494.43H458.76M458.76 490.86H459.76M460.29 488.68V491.90M459.29 490.86H460.29M460.29 489.64H461.29M461.83 485.42V490.54M460.83 489.64H461.83M461.83 487.04H462.83M463.36 483.46V488.06M462.36 487.04H463.36M463.36 485.19H464.36M464.89 483.76V487.70M463.89 485.19H464.89M464.89 485.99H465.89M466.42 484.09V488.10M465.42 485.99H466.42M466.42 487.49H467.42M467.96 486.89V491.79M466.96 487.49H467.96M467.96 490.16H468.96M469.49 489.40V495.56M468.49 490.16H469.49M469.49 494.42H470.49M471.02 492.93V501.42M470.02 494.42H471.02M471.02 500.82H472.02M472.56 500.10V505.08M471.56 500.82H472.56M472.56 504.43H473.56M474.09 497.99V506.49M473.09 504.43H474.09M474.09 498.55H475.09M475.62 497.21V501.30M474.62 498.55H475.62M475.62 499.72H476.62M477.15 497.83V503.08M476.15 499.72H477.15M477.15 501.96H478.15M478.69 500.80V503.05M477.69 501.96H478.69M478.69 502.58H479.69M480.22 500.91V505.35M479.22 502.58H480.22M480.22 503.18H481.22M481.75 501.58V504.74M480.75 503.18H481.75M481.75 503.23H482.75M483.29 502.21V508.32M482.29 503.23H483.29M483.29 507.27H484.29M484.82 506.65V515.17M483.82 507.27H484.82M484.82 514.07H485.82M486.35 503.84V515.96M485.35 514.07H486.35M486.35 505.67H487.35M487.88 490.77V507.46M486.88 505.67H487.88M487.88 491.48H488.88M489.42 490.08V495.49M488.42 491.48H489.42M489.42 494.43H490.42M490.95 493.74V498.05M489.95 494.43H490.95M490.95 496.35H491.95M492.48 495.00V499.84M491.48 496.35H492.48M492.48 498.14H493.48M494.02 497.35V500.69M493.02 498.14H494.02M494.02 498.59H495.02M495.55 497.80V499.50M494.55 498.59H495.55M495.55 498.92H496.55M497.08 497.46V501.88M496.08 498.92H497.08M497.08 500.21H498.08M498.61 498.14V503.22M497.61 500.21H498.61M498.61 502.14H499.61M500.15 497.02V504.29M499.15 502.14H500.15M500.15 497.68H501.15M501.68 490.78V499.08M500.68 497.68H501.68M501.68 492.81H502.68M503.21 489.20V493.72M502.21 492.81H503.21M503.21 490.63H504.21M504.75 488.44V498.34M503.75 490.63H504.75M504.75 496.46H505.75M506.28 495.80V500.91M505.28 496.46H506.28M506.28 499.02H507.28M507.81 497.00V501.98M506.81 499.02H507.81M507.81 501.12H508.81M509.34 499.21V504.67M508.34 501.12H509.34M509.34 503.90H510.34M510.88 502.40V504.40M509.88 503.90H510.88M510.88 502.97H511.88M512.41 498.40V505.07M511.41 502.97H512.41M512.41 500.58H513.41M513.94 499.60V506.09M512.94 500.58H513.94M513.94 504.47H514.94M515.48 503.36V508.23M514.48 504.47H515.48M515.48 506.75H516.48M517.01 504.75V507.54M516.01 506.75H517.01M517.01 505.21H518.01M518.54 502.99V506.33M517.54 505.21H518.54M518.54 503.68H519.54M520.07 502.94V510.44M519.07 503.68H520.07M520.07 509.08H521.07M521.61 507.64V512.19M520.61 509.08H521.61M521.61 511.16H522.61M523.14 510.66V515.67M522.14 511.16H523.14M523.14 514.05H524.14M524.67 508.37V515.54M523.67 514.05H524.67M524.67 510.50H525.67M526.21 507.72V512.03M525.21 510.50H526.21M526.21 508.88H527.21M527.74 505.27V510.64M526.74 508.88H527.74M527.74 507.04H528.74M529.27 502.76V508.96M528.27 507.04H529.27M529.27 504.95H530.27M530.80 503.34V506.15M529.80 504.95H530.80M530.80 504.50H531.80M532.34 502.46V507.09M531.34 504.50H532.34M532.34 505.73H533.34M533.87 504.52V508.77M532.87 505.73H533.87M533.87 506.74H534.87M535.40 506.20V508.79M534.40 506.74H535.40M535.40 507.07H536.40M536.94 500.87V508.57M535.94 507.07H536.94M536.94 502.60H537.94M538.47 496.68V504.08M537.47 502.60H538.47M538.47 497.65H539.47M540.00 493.94V498.88M539.00 497.65H540.00M540.00 494.60H541.00M541.53 493.46V497.38M540.53 494.60H541.53M541.53 496.85H542.53M543.07 495.48V500.12M542.07 496.85H543.07M543.07 499.26H544.07M544.60 498.12V501.60M543.60 499.26H544.60M544.60 500.74H545.60M546.13 498.70V504.37M545.13 500.74H546.13M546.13 502.23H547.13M547.66 500.26V506.19M546.66 502.23H547.66M547.66 505.01H548.66M549.20 504.18V506.80M548.20 505.01H549.20M549.20 505.04H550.20M550.73 501.98V505.66M549.73 505.04H550.73M550.73 504.01H551.73M552.26 503.35V506.63M551.26 504.01H552.26M552.26 505.25H553.26M553.80 504.31V506.12M552.80 505.25H553.80M553.80 504.75H554.80M555.33 500.07V505.30M554.33 504.75H555.33M555.33 501.08H556.33M556.86 497.38V502.22M555.86 501.08H556.86M556.86 499.25H557.86M558.39 492.73V499.77M557.39 499.25H558.39M558.39 494.20H559.39M559.93 492.18V497.09M558.93 494.20H559.93M559.93 496.11H560.93M561.46 494.02V502.37M560.46 496.11H561.46M561.46 500.21H562.46M562.99 499.40V502.65M561.99 500.21H562.99M562.99 501.69H563.99M564.53 499.67V505.72M563.53 501.69H564.53M564.53 504.94H565.53M566.06 503.88V509.10M565.06 504.94H566.06M566.06 507.83H567.06M567.59 505.84V511.69M566.59 507.83H567.59M567.59 509.49H568.59M569.12 507.94V512.84M568.12 509.49H569.12M569.12 512.06H570.12M570.66 511.53V514.88M569.66 512.06H570.66M570.66 514.25H571.66M572.19 511.82V516.28M571.19 514.25H572.19M572.19 512.81H573.19M573.72 509.12V513.49M572.72 512.81H573.72M573.72 510.82H574.72M575.26 504.44V512.04M574.26 510.82H575.26M575.26 506.53H576.26M576.79 503.64V507.51M575.79 506.53H576.79M576.79 504.47H577.79M578.32 503.69V507.43M577.32 504.47H578.32M578.32 506.67H579.32M579.85 505.07V509.81M578.85 506.67H579.85M579.85 507.98H580.85M581.39 505.79V514.67M580.39 507.98H581.39M581.39 511.95H582.39M582.92 510.80V517.56M581.92 511.95H582.92M582.92 516.24H583.92M584.45 514.04V522.04M583.45 516.24H584.45M584.45 520.78H585.45M585.99 519.96V534.30M584.99 520.78H585.99M585.99 531.34H586.99M587.52 529.47V548.00M586.52 531.34H587.52M587.52 546.12H588.52M589.05 523.90V547.41M588.05 546.12H589.05M589.05 525.94H590.05M590.58 520.78V526.75M589.58 525.94H590.58M590.58 523.31H591.58M592.12 516.60V524.50M591.12 523.31H592.12M592.12 519.01H593.12M593.65 511.72V520.06M592.65 519.01H593.65M593.65 513.63H594.65M595.18 496.61V514.32M594.18 513.63H595.18M595.18 499.58H596.18M596.72 497.18V507.09M595.72 499.58H596.72M596.72 505.57H597.72M598.25 503.77V514.31M597.25 505.57H598.25M598.25 513.27H599.25M599.78 511.13V516.58M598.78 513.27H599.78M599.78 515.12H600.78M601.31 510.88V516.96M600.31 515.12H601.31M601.31 513.36H602.31M602.85 507.94V515.60M601.85 513.36H602.85M602.85 510.57H603.85M604.38 504.65V511.58M603.38 510.57H604.38M604.38 507.53H605.38M605.91 505.38V509.59M604.91 507.53H605.91M605.91 506.38H606.91M607.45 502.81V508.84M606.45 506.38H607.45M607.45 504.47H608.45M608.98 501.97V506.03M607.98 504.47H608.98M608.98 504.86H609.98M610.51 500.85V506.85M609.51 504.86H610.51M610.51 501.98H611.51M612.04 501.29V508.80M611.04 501.98H612.04M612.04 506.76H613.04M613.58 504.79V517.09M612.58 506.76H613.58M613.58 514.39H614.58M615.11 513.43V517.75M614.11 514.39H615.11M615.11 517.10H616.11M616.64 515.46V523.26M615.64 517.10H616.64M616.64 521.60H617.64M618.18 519.08V525.28M617.18 521.60H618.18M618.18 524.50H619.18M619.71 518.76V526.41M618.71 524.50H619.71M619.71 520.73H620.71M621.24 515.09V521.68M620.24 520.73H621.24M621.24 516.26H622.24M622.77 510.72V517.61M621.77 516.26H622.77M622.77 511.42H623.77M624.31 507.03V512.65M623.31 511.42H624.31M624.31 508.89H625.31M625.84 505.33V511.46M624.84 508.89H625.84M625.84 506.14H626.84M627.37 502.60V507.12M626.37 506.14H627.37M627.37 503.81H628.37M628.91 501.22V509.78M627.91 503.81H628.91M628.91 507.29H629.91M630.44 505.70V510.18M629.44 507.29H630.44M630.44 508.71H631.44M631.97 505.78V512.80M630.97 508.71H631.97M631.97 512.10H632.97M633.50 509.67V517.95M632.50 512.10H633.50M633.50 514.98H634.50M635.04 513.29V521.35M634.04 514.98H635.04M635.04 518.96H636.04M636.57 517.78V531.55M635.57 518.96H636.57M636.57 528.82H637.57M638.10 527.28V540.56M637.10 528.82H638.10M638.10 539.25H639.10M639.64 536.60V539.93M638.64 539.25H639.64M639.64 537.39H640.64M641.17 534.86V539.75M640.17 537.39H641.17M641.17 537.29H642.17M642.70 534.48V539.22M641.70 537.29H642.70M642.70 535.68H643.70M644.23 532.15V538.52M643.23 535.68H644.23M644.23 533.86H645.23M645.77 530.81V536.81M644.77 533.86H645.77M645.77 532.21H646.77M647.30 531.52V536.10M646.30 532.21H647.30M647.30 534.53H648.30M648.83 533.79V539.86M647.83 534.53H648.83M648.83 538.44H649.83M650.37 535.76V545.61M649.37 538.44H650.37M650.37 543.59H651.37M651.90 541.88V548.60M650.90 543.59H651.90M651.90 547.06H652.90M653.43 542.59V549.54M652.43 547.06H653.43M653.43 544.11H654.43M654.96 538.75V545.15M653.96 544.11H654.96M654.96 540.19H655.96M656.50 538.36V541.28M655.50 540.19H656.50M656.50 539.36H657.50M658.03 536.94V540.70M657.03 539.36H658.03M658.03 538.67H659.03M659.56 535.68V542.02M658.56 538.67H659.56M659.56 539.79H660.56M661.10 537.28V541.31M660.10 539.79H661.10M661.10 538.37H662.10M662.63 532.47V539.84M661.63 538.37H662.63M662.63 534.72H663.63M664.16 532.63V535.76M663.16 534.72H664.16M664.16 533.28H665.16M665.69 531.73V537.86M664.69 533.28H665.69M665.69 535.04H666.69M667.23 533.80V539.42M666.23 535.04H667.23M667.23 537.95H668.23M668.76 526.40V539.42M667.76 537.95H668.76M668.76 529.25H669.76M670.29 524.36V532.02M669.29 529.25H670.29M670.29 526.70H671.29M671.83 521.08V528.22M670.83 526.70H671.83M671.83 522.46H672.83M673.36 519.10V523.84M672.36 522.46H673.36M673.36 521.82H674.36M674.89 519.97V523.23M673.89 521.82H674.89M674.89 522.50H675.89M676.42 519.77V523.20M675.42 522.50H676.42M676.42 520.94H677.42M677.96 517.63V521.62M676.96 520.94H677.96M677.96 519.66H678.96M679.49 518.05V522.99M678.49 519.66H679.49M679.49 521.09H680.49M681.02 518.79V525.01M680.02 521.09H681.02M681.02 523.78H682.02M682.56 521.58V527.08M681.56 523.78H682.56M682.56 526.13H683.56M684.09 524.70V528.44M683.09 526.13H684.09M684.09 525.97H685.09M685.62 524.44V530.60M684.62 525.97H685.62M685.62 527.92H686.62M687.15 526.62V530.05M686.15 527.92H687.15M687.15 528.63H688.15M688.69 527.93V530.03M687.69 528.63H688.69M688.69 529.37H689.69M690.22 527.41V535.02M689.22 529.37H690.22M690.22 532.48H691.22M691.75 531.16V537.46M690.75 532.48H691.75M691.75 535.25H692.75M693.29 534.13V538.92M692.29 535.25H693.29M693.29 536.67H694.29M694.82 533.77V543.10M693.82 536.67H694.82M694.82 540.42H695.82M696.35 538.30V543.29M695.35 540.42H696.35M696.35 542.47H697.35M697.88 540.93V546.26M696.88 542.47H697.88M697.88 545.52H698.88M699.42 544.13V552.80M698.42 545.52H699.42M699.42 551.01H700.42M700.95 544.39V552.57M699.95 551.01H700.95M700.95 545.37H701.95M702.48 541.48V547.57M701.48 545.37H702.48M702.48 542.48H703.48M704.02 537.97V543.90M703.02 542.48H704.02M704.02 538.79H705.02M705.55 532.62V540.79M704.55 538.79H705.55M705.55 533.59H706.55M707.08 531.66V537.28M706.08 533.59H707.08M707.08 535.00H708.08M708.61 533.46V536.59M707.61 535.00H708.61M708.61 535.11H709.61M710.15 533.54V537.46M709.15 535.11H710.15M710.15 536.73H711.15M711.68 534.72V540.04M710.68 536.73H711.68M711.68 538.31H712.68M713.21 535.57V538.97M712.21 538.31H713.21M713.21 536.78H714.21M714.75 533.32V538.74M713.75 536.78H714.75M714.75 536.06H715.75M716.28 533.85V539.35M715.28 536.06H716.28M716.28 538.31H717.28M717.81 536.23V544.39M716.81 538.31H717.81M717.81 541.50H718.81M719.34 539.51V545.67M718.34 541.50H719.34M719.34 542.81H720.34M720.88 540.70V547.29M719.88 542.81H720.88M720.88 545.20H721.88M722.41 543.60V547.24M721.41 545.20H722.41M722.41 545.97H723.41M723.94 543.26V552.06M722.94 545.97H723.94M723.94 550.55H724.94M725.48 549.86V554.29M724.48 550.55H725.48M725.48 553.36H726.48M727.01 549.50V554.83M726.01 553.36H727.01M727.01 550.84H728.01M728.54 548.69V551.90M727.54 550.84H728.54M728.54 549.65H729.54M730.07 541.87V550.81M729.07 549.65H730.07M730.07 544.11H731.07M731.61 535.02V545.65M730.61 544.11H731.61M731.61 536.92H732.61M733.14 533.35V539.08M732.14 536.92H733.14M733.14 535.13H734.14M734.67 533.03V537.13M733.67 535.13H734.67M734.67 535.19H735.67M736.21 532.26V537.95M735.21 535.19H736.21M736.21 536.55H737.21M737.74 533.57V537.90M736.74 536.55H737.74M737.74 536.30H738.74M739.27 534.03V540.09M738.27 536.30H739.27M739.27 537.84H740.27M740.80 535.26V540.11M739.80 537.84H740.80M740.80 539.13H741.80M742.34 537.35V541.30M741.34 539.13H742.34M742.34 539.34H743.34M743.87 538.06V543.37M742.87 539.34H743.87M743.87 540.98H744.87M745.40 539.25V542.17M744.40 540.98H745.40M745.40 540.42H746.40M746.94 537.36V542.25M745.94 540.42H746.94M746.94 538.38H747.94M748.47 537.63V540.20M747.47 538.38H748.47M748.47 539.43H749.47M750.00 537.14V541.03M749.00 539.43H750.00M750.00 540.16H751.00M751.53 537.68V541.92M750.53 540.16H751.53M751.53 540.13H752.53M753.07 534.48V542.82M752.07 540.13H753.07M753.07 537.16H754.07M754.60 532.90V538.98M753.60 537.16H754.60M754.60 534.11H755.60M756.13 532.57V538.76M755.13 534.11H756.13M756.13 536.44H757.13M757.66 533.08V537.82M756.66 536.44H757.66M757.66 535.40H758.66M759.20 532.38V538.02M758.20 535.40H759.20M759.20 534.80H760.20M760.73 532.84V537.91M759.73 534.80H760.73M760.73 536.31H761.73M762.26 534.21V539.15M761.26 536.31H762.26M762.26 536.55H763.26M763.80 535.08V538.06M762.80 536.55H763.80M763.80 535.98H764.80M765.33 533.37V537.03M764.33 535.98H765.33M765.33 534.53H766.33M766.86 529.61V537.38M765.86 534.53H766.86M766.86 531.62H767.86M768.39 530.07V533.87M767.39 531.62H768.39M768.39 530.99H769.39M769.93 528.87V534.33M768.93 530.99H769.93M769.93 532.77H770.93M771.46 529.80V537.98M770.46 532.77H771.46M771.46 537.27H772.46M772.99 536.38V538.27M771.99 537.27H772.99M772.99 537.57H773.99M774.53 535.21V540.81M773.53 537.57H774.53M774.53 537.83H775.53M776.06 536.43V539.68M775.06 537.83H776.06M776.06 539.01H777.06M777.59 537.25V544.27M776.59 539.01H777.59M777.59 542.77H778.59M779.12 540.25V547.59M778.12 542.77H779.12M779.12 544.97H780.12M780.66 543.43V548.54M779.66 544.97H780.66M780.66 546.45H781.66M782.19 543.50V554.97M781.19 546.45H782.19M782.19 553.43H783.19M783.72 551.52V560.43M782.72 553.43H783.72M783.72 557.91H784.72M785.26 549.23V558.76M784.26 557.91H785.26M785.26 550.25H786.26M786.79 549.05V552.14M785.79 550.25H786.79M786.79 550.37H787.79M788.32 546.99V551.02M787.32 550.37H788.32M788.32 548.36H789.32M789.85 547.42V552.17M788.85 548.36H789.85M789.85 550.07H790.85M791.39 548.92V559.21M790.39 550.07H791.39M791.39 557.45H792.39M792.92 556.23V576.69M791.92 557.45H792.92M792.92 575.97H793.92M794.45 567.44V577.31M793.45 575.97H794.45M794.45 570.18H795.45M795.99 566.33V571.94M794.99 570.18H795.99M795.99 567.37H796.99M797.52 566.29V571.22M796.52 567.37H797.52M797.52 568.53H798.52M799.05 565.10V571.07M798.05 568.53H799.05M799.05 566.69H800.05M800.58 565.00V568.61M799.58 566.69H800.58M800.58 565.74H801.58M802.12 563.43V567.00M801.12 565.74H802.12M802.12 565.52H803.12M803.65 562.10V568.51M802.65 565.52H803.65M803.65 564.77H804.65M805.18 559.60V567.11M804.18 564.77H805.18M805.18 562.20H806.18M806.72 559.44V563.20M805.72 562.20H806.72M806.72 560.10H807.72M808.25 556.55V561.56M807.25 560.10H808.25M808.25 557.33H809.25M809.78 552.98V559.16M808.78 557.33H809.78M809.78 554.32H810.78M811.31 545.37V557.23M810.31 554.32H811.31M811.31 546.47H812.31M812.85 544.61V550.61M811.85 546.47H812.85M812.85 548.07H813.85M814.38 545.71V552.80M813.38 548.07H814.38M814.38 551.24H815.38M815.91 548.66V555.24M814.91 551.24H815.91M815.91 552.80H816.91M817.45 551.96V558.79M816.45 552.80H817.45M817.45 555.91H818.45M818.98 553.62V558.50M817.98 555.91H818.98M818.98 557.29H819.98M820.51 555.20V559.28M819.51 557.29H820.51M820.51 555.86H821.51M822.04 553.69V557.35M821.04 555.86H822.04M822.04 555.22H823.04M823.58 552.68V559.13M822.58 555.22H823.58M823.58 557.66H824.58M825.11 556.21V561.56M824.11 557.66H825.11M825.11 560.29H826.11M826.64 555.18V561.56M825.64 560.29H826.64M826.64 557.28H827.64M828.18 547.64V558.98M827.18 557.28H828.18M828.18 551.29H829.18M829.71 544.19V554.71M828.71 551.29H829.71M829.71 547.12H830.71M831.24 538.05V548.56M830.24 547.12H831.24M831.24 539.36H832.24M832.77 532.82V540.31M831.77 539.36H832.77M832.77 535.33H833.77M834.31 527.60V537.43M833.31 535.33H834.31M834.31 530.01H835.31M835.84 525.58V533.85M834.84 530.01H835.84M835.84 532.18H836.84M837.37 530.08V539.49M836.37 532.18H837.37M837.37 535.80H838.37M838.91 520.68V538.30M837.91 535.80H838.91M838.91 525.23H839.91M840.44 510.49V527.65M839.44 525.23H840.44M840.44 512.22H841.44M841.97 510.65V521.89M840.97 512.22H841.97M841.97 519.96H842.97M843.50 515.55V526.23M842.50 519.96H843.50M843.50 524.13H844.50M845.04 521.89V528.90M844.04 524.13H845.04M845.04 524.34H846.04M846.57 518.94V526.65M845.57 524.34H846.57M846.57 522.19H847.57M848.10 520.49V526.54M847.10 522.19H848.10M848.10 523.35H849.10M849.64 519.28V527.73M848.64 523.35H849.64M849.64 524.50H850.64M851.17 519.92V525.84M850.17 524.50H851.17M851.17 522.93H852.17M852.70 518.70V525.51M851.70 522.93H852.70M852.70 522.16H853.70M854.23 517.03V524.49M853.23 522.16H854.23M854.23 519.50H855.23M855.77 509.62V522.52M854.77 519.50H855.77M855.77 512.75H856.77M857.30 509.69V515.98M856.30 512.75H857.30M857.30 510.73H858.30" stroke="#000" fill="none"/></defs>
<use href="#b2" stroke-width="1" shape-rendering="crispEdges"/>
<use href="#b2" stroke-width="1.3" opacity="0.75"/>
</g>
<path d="M16.5 300 V28.5 H862" fill="none" stroke="#8C8C8C" stroke-width="1"/>
<path d="M862.5 28 V299.5 H16" fill="none" stroke="#6A6A6A" stroke-width="1.4"/>
<path d="M862.5 296.52h1.8M862.5 292.88h1.8M862.5 289.25h1.8M862.5 285.61h1.8M862.5 281.97h3M862.5 278.33h1.8M862.5 274.69h1.8M862.5 271.06h1.8M862.5 267.42h1.8M862.5 263.78h3M862.5 260.14h1.8M862.5 256.50h1.8M862.5 252.87h1.8M862.5 249.23h1.8M862.5 245.59h3M862.5 241.95h1.8M862.5 238.31h1.8M862.5 234.68h1.8M862.5 231.04h1.8M862.5 227.40h3M862.5 223.76h1.8M862.5 220.12h1.8M862.5 216.49h1.8M862.5 212.85h1.8M862.5 209.21h3M862.5 205.57h1.8M862.5 201.93h1.8M862.5 198.30h1.8M862.5 194.66h1.8M862.5 191.02h3M862.5 187.38h1.8M862.5 183.74h1.8M862.5 180.11h1.8M862.5 176.47h1.8M862.5 172.83h3M862.5 169.19h1.8M862.5 165.55h1.8M862.5 161.92h1.8M862.5 158.28h1.8M862.5 154.64h3M862.5 151.00h1.8M862.5 147.36h1.8M862.5 143.73h1.8M862.5 140.09h1.8M862.5 136.45h3M862.5 132.81h1.8M862.5 129.17h1.8M862.5 125.54h1.8M862.5 121.90h1.8M862.5 118.26h3M862.5 114.62h1.8M862.5 110.98h1.8M862.5 107.35h1.8M862.5 103.71h1.8M862.5 100.07h3M862.5 96.43h1.8M862.5 92.79h1.8M862.5 89.16h1.8M862.5 85.52h1.8M862.5 81.88h3M862.5 78.24h1.8M862.5 74.60h1.8M862.5 70.97h1.8M862.5 67.33h1.8M862.5 63.69h3M862.5 60.05h1.8M862.5 56.41h1.8M862.5 52.78h1.8M862.5 49.14h1.8M862.5 45.50h3M862.5 41.86h1.8M862.5 38.22h1.8M862.5 34.59h1.8M862.5 30.95h1.8" stroke="#222" stroke-width="1" fill="none"/>
<text x="883.4" y="284.27" font-size="10" text-anchor="end" fill="#000" stroke="#000" stroke-width="0.25">50</text>
<text x="883.4" y="266.08" font-size="10" text-anchor="end" fill="#000" stroke="#000" stroke-width="0.25">60</text>
<text x="883.4" y="247.89" font-size="10" text-anchor="end" fill="#000" stroke="#000" stroke-width="0.25">70</text>
<text x="883.4" y="229.70" font-size="10" text-anchor="end" fill="#000" stroke="#000" stroke-width="0.25">80</text>
<text x="883.4" y="211.51" font-size="10" text-anchor="end" fill="#000" stroke="#000" stroke-width="0.25">90</text>
<text x="883.4" y="193.32" font-size="10" text-anchor="end" fill="#000" stroke="#000" stroke-width="0.25">100</text>
<text x="883.4" y="175.13" font-size="10" text-anchor="end" fill="#000" stroke="#000" stroke-width="0.25">110</text>
<text x="883.4" y="156.94" font-size="10" text-anchor="end" fill="#000" stroke="#000" stroke-width="0.25">120</text>
<text x="883.4" y="138.75" font-size="10" text-anchor="end" fill="#000" stroke="#000" stroke-width="0.25">130</text>
<text x="883.4" y="120.56" font-size="10" text-anchor="end" fill="#000" stroke="#000" stroke-width="0.25">140</text>
<text x="883.4" y="102.37" font-size="10" text-anchor="end" fill="#000" stroke="#000" stroke-width="0.25">150</text>
<text x="883.4" y="84.18" font-size="10" text-anchor="end" fill="#000" stroke="#000" stroke-width="0.25">160</text>
<text x="883.4" y="65.99" font-size="10" text-anchor="end" fill="#000" stroke="#000" stroke-width="0.25">170</text>
<text x="883.4" y="47.80" font-size="10" text-anchor="end" fill="#000" stroke="#000" stroke-width="0.25">180</text>
<path d="M16.5 585 V313.5 H862" fill="none" stroke="#8C8C8C" stroke-width="1"/>
<path d="M862.5 313 V584.5 H16" fill="none" stroke="#6A6A6A" stroke-width="1.4"/>
<path d="M862.5 582.21h1.8M862.5 578.48h1.8M862.5 574.75h3M862.5 571.02h1.8M862.5 567.29h1.8M862.5 563.56h1.8M862.5 559.83h1.8M862.5 556.10h3M862.5 552.37h1.8M862.5 548.64h1.8M862.5 544.91h1.8M862.5 541.18h1.8M862.5 537.45h3M862.5 533.72h1.8M862.5 529.99h1.8M862.5 526.26h1.8M862.5 522.53h1.8M862.5 518.80h3M862.5 515.07h1.8M862.5 511.34h1.8M862.5 507.61h1.8M862.5 503.88h1.8M862.5 500.15h3M862.5 496.42h1.8M862.5 492.69h1.8M862.5 488.96h1.8M862.5 485.23h1.8M862.5 481.50h3M862.5 477.77h1.8M862.5 474.04h1.8M862.5 470.31h1.8M862.5 466.58h1.8M862.5 462.85h3M862.5 459.12h1.8M862.5 455.39h1.8M862.5 451.66h1.8M862.5 447.93h1.8M862.5 444.20h3M862.5 440.47h1.8M862.5 436.74h1.8M862.5 433.01h1.8M862.5 429.28h1.8M862.5 425.55h3M862.5 421.82h1.8M862.5 418.09h1.8M862.5 414.36h1.8M862.5 410.63h1.8M862.5 406.90h3M862.5 403.17h1.8M862.5 399.44h1.8M862.5 395.71h1.8M862.5 391.98h1.8M862.5 388.25h3M862.5 384.52h1.8M862.5 380.79h1.8M862.5 377.06h1.8M862.5 373.33h1.8M862.5 369.60h3M862.5 365.87h1.8M862.5 362.14h1.8M862.5 358.41h1.8M862.5 354.68h1.8M862.5 350.95h3M862.5 347.22h1.8M862.5 343.49h1.8M862.5 339.76h1.8M862.5 336.03h1.8M862.5 332.30h3M862.5 328.57h1.8M862.5 324.84h1.8M862.5 321.11h1.8M862.5 317.38h1.8" stroke="#222" stroke-width="1" fill="none"/>
<text x="883.4" y="577.65" font-size="10" text-anchor="end" fill="#000" stroke="#000" stroke-width="0.25">10</text>
<text x="883.4" y="559.00" font-size="10" text-anchor="end" fill="#000" stroke="#000" stroke-width="0.25">20</text>
<text x="883.4" y="540.35" font-size="10" text-anchor="end" fill="#000" stroke="#000" stroke-width="0.25">30</text>
<text x="883.4" y="521.70" font-size="10" text-anchor="end" fill="#000" stroke="#000" stroke-width="0.25">40</text>
<text x="883.4" y="503.05" font-size="10" text-anchor="end" fill="#000" stroke="#000" stroke-width="0.25">50</text>
<text x="883.4" y="484.40" font-size="10" text-anchor="end" fill="#000" stroke="#000" stroke-width="0.25">60</text>
<text x="883.4" y="465.75" font-size="10" text-anchor="end" fill="#000" stroke="#000" stroke-width="0.25">70</text>
<text x="883.4" y="447.10" font-size="10" text-anchor="end" fill="#000" stroke="#000" stroke-width="0.25">80</text>
<text x="883.4" y="428.45" font-size="10" text-anchor="end" fill="#000" stroke="#000" stroke-width="0.25">90</text>
<text x="883.4" y="409.80" font-size="10" text-anchor="end" fill="#000" stroke="#000" stroke-width="0.25">100</text>
<text x="883.4" y="391.15" font-size="10" text-anchor="end" fill="#000" stroke="#000" stroke-width="0.25">110</text>
<text x="883.4" y="372.50" font-size="10" text-anchor="end" fill="#000" stroke="#000" stroke-width="0.25">120</text>
<text x="883.4" y="353.85" font-size="10" text-anchor="end" fill="#000" stroke="#000" stroke-width="0.25">130</text>
<text x="883.4" y="335.20" font-size="10" text-anchor="end" fill="#000" stroke="#000" stroke-width="0.25">140</text>
<path d="M18.5 300V313M36.5 300V313M55.5 300V313M73.5 300V313M92.5 300V313M110.5 300V313M128.5 300V313M147.5 300V313M165.5 300V313M183.5 300V313M202.5 300V313M220.5 300V313M238.5 300V313M257.5 300V313M275.5 300V313M294.5 300V313M312.5 300V313M330.5 300V313M349.5 300V313M367.5 300V313M385.5 300V313M404.5 300V313M422.5 300V313M441.5 300V313M459.5 300V313M477.5 300V313M496.5 300V313M514.5 300V313M532.5 300V313M551.5 300V313M569.5 300V313M588.5 300V313M606.5 300V313M624.5 300V313M643.5 300V313M661.5 300V313M679.5 300V313M698.5 300V313M716.5 300V313M734.5 300V313M753.5 300V313M771.5 300V313M790.5 300V313M808.5 300V313M826.5 300V313M845.5 300V313" stroke="#8A6A20" stroke-opacity="0.16" stroke-width="1" fill="none" shape-rendering="crispEdges"/>
<path d="M18.5 300v2.6M18.5 585v2.6M36.5 300v2.6M36.5 585v2.6M55.5 300v2.6M55.5 585v2.6M73.5 300v2.6M73.5 585v2.6M92.5 300v2.6M92.5 585v2.6M110.5 300v2.6M110.5 585v2.6M128.5 300v2.6M128.5 585v2.6M147.5 300v2.6M147.5 585v2.6M165.5 300v2.6M165.5 585v2.6M183.5 300v2.6M183.5 585v2.6M202.5 300v2.6M202.5 585v2.6M220.5 300v2.6M220.5 585v2.6M238.5 300v2.6M238.5 585v2.6M257.5 300v2.6M257.5 585v2.6M275.5 300v2.6M275.5 585v2.6M294.5 300v2.6M294.5 585v2.6M312.5 300v2.6M312.5 585v2.6M330.5 300v2.6M330.5 585v2.6M349.5 300v2.6M349.5 585v2.6M367.5 300v2.6M367.5 585v2.6M385.5 300v2.6M385.5 585v2.6M404.5 300v2.6M404.5 585v2.6M422.5 300v2.6M422.5 585v2.6M441.5 300v2.6M441.5 585v2.6M459.5 300v2.6M459.5 585v2.6M477.5 300v2.6M477.5 585v2.6M496.5 300v2.6M496.5 585v2.6M514.5 300v2.6M514.5 585v2.6M532.5 300v2.6M532.5 585v2.6M551.5 300v2.6M551.5 585v2.6M569.5 300v2.6M569.5 585v2.6M588.5 300v2.6M588.5 585v2.6M606.5 300v2.6M606.5 585v2.6M624.5 300v2.6M624.5 585v2.6M643.5 300v2.6M643.5 585v2.6M661.5 300v2.6M661.5 585v2.6M679.5 300v2.6M679.5 585v2.6M698.5 300v2.6M698.5 585v2.6M716.5 300v2.6M716.5 585v2.6M734.5 300v2.6M734.5 585v2.6M753.5 300v2.6M753.5 585v2.6M771.5 300v2.6M771.5 585v2.6M790.5 300v2.6M790.5 585v2.6M808.5 300v2.6M808.5 585v2.6M826.5 300v2.6M826.5 585v2.6M845.5 300v2.6M845.5 585v2.6" stroke="#3A3020" stroke-opacity="0.75" stroke-width="1" fill="none" shape-rendering="crispEdges"/>
<text x="17.95" y="310.3" font-size="10" text-anchor="middle" fill="#000" stroke="#000" stroke-width="0.25">78</text>
<text x="36.32" y="310.3" font-size="10" text-anchor="middle" fill="#000" stroke="#000" stroke-width="0.25">79</text>
<text x="54.69" y="310.3" font-size="10" text-anchor="middle" fill="#000" stroke="#000" stroke-width="0.25">80</text>
<text x="73.06" y="310.3" font-size="10" text-anchor="middle" fill="#000" stroke="#000" stroke-width="0.25">81</text>
<text x="91.43" y="310.3" font-size="10" text-anchor="middle" fill="#000" stroke="#000" stroke-width="0.25">82</text>
<text x="109.80" y="310.3" font-size="10" text-anchor="middle" fill="#000" stroke="#000" stroke-width="0.25">83</text>
<text x="128.17" y="310.3" font-size="10" text-anchor="middle" fill="#000" stroke="#000" stroke-width="0.25">84</text>
<text x="146.54" y="310.3" font-size="10" text-anchor="middle" fill="#000" stroke="#000" stroke-width="0.25">85</text>
<text x="164.91" y="310.3" font-size="10" text-anchor="middle" fill="#000" stroke="#000" stroke-width="0.25">86</text>
<text x="183.28" y="310.3" font-size="10" text-anchor="middle" fill="#000" stroke="#000" stroke-width="0.25">87</text>
<text x="201.65" y="310.3" font-size="10" text-anchor="middle" fill="#000" stroke="#000" stroke-width="0.25">88</text>
<text x="220.02" y="310.3" font-size="10" text-anchor="middle" fill="#000" stroke="#000" stroke-width="0.25">89</text>
<text x="238.39" y="310.3" font-size="10" text-anchor="middle" fill="#000" stroke="#000" stroke-width="0.25">90</text>
<text x="256.76" y="310.3" font-size="10" text-anchor="middle" fill="#000" stroke="#000" stroke-width="0.25">91</text>
<text x="275.13" y="310.3" font-size="10" text-anchor="middle" fill="#000" stroke="#000" stroke-width="0.25">92</text>
<text x="293.50" y="310.3" font-size="10" text-anchor="middle" fill="#000" stroke="#000" stroke-width="0.25">93</text>
<text x="311.87" y="310.3" font-size="10" text-anchor="middle" fill="#000" stroke="#000" stroke-width="0.25">94</text>
<text x="330.24" y="310.3" font-size="10" text-anchor="middle" fill="#000" stroke="#000" stroke-width="0.25">95</text>
<text x="348.61" y="310.3" font-size="10" text-anchor="middle" fill="#000" stroke="#000" stroke-width="0.25">96</text>
<text x="366.98" y="310.3" font-size="10" text-anchor="middle" fill="#000" stroke="#000" stroke-width="0.25">97</text>
<text x="385.35" y="310.3" font-size="10" text-anchor="middle" fill="#000" stroke="#000" stroke-width="0.25">98</text>
<text x="403.72" y="310.3" font-size="10" text-anchor="middle" fill="#000" stroke="#000" stroke-width="0.25">99</text>
<text x="422.09" y="310.3" font-size="10" text-anchor="middle" fill="#000" stroke="#000" stroke-width="0.25">00</text>
<text x="440.46" y="310.3" font-size="10" text-anchor="middle" fill="#000" stroke="#000" stroke-width="0.25">01</text>
<text x="458.83" y="310.3" font-size="10" text-anchor="middle" fill="#000" stroke="#000" stroke-width="0.25">02</text>
<text x="477.20" y="310.3" font-size="10" text-anchor="middle" fill="#000" stroke="#000" stroke-width="0.25">03</text>
<text x="495.57" y="310.3" font-size="10" text-anchor="middle" fill="#000" stroke="#000" stroke-width="0.25">04</text>
<text x="513.94" y="310.3" font-size="10" text-anchor="middle" fill="#000" stroke="#000" stroke-width="0.25">05</text>
<text x="532.31" y="310.3" font-size="10" text-anchor="middle" fill="#000" stroke="#000" stroke-width="0.25">06</text>
<text x="550.68" y="310.3" font-size="10" text-anchor="middle" fill="#000" stroke="#000" stroke-width="0.25">07</text>
<text x="569.05" y="310.3" font-size="10" text-anchor="middle" fill="#000" stroke="#000" stroke-width="0.25">08</text>
<text x="587.42" y="310.3" font-size="10" text-anchor="middle" fill="#000" stroke="#000" stroke-width="0.25">09</text>
<text x="605.79" y="310.3" font-size="10" text-anchor="middle" fill="#000" stroke="#000" stroke-width="0.25">10</text>
<text x="624.16" y="310.3" font-size="10" text-anchor="middle" fill="#000" stroke="#000" stroke-width="0.25">11</text>
<text x="642.53" y="310.3" font-size="10" text-anchor="middle" fill="#000" stroke="#000" stroke-width="0.25">12</text>
<text x="660.90" y="310.3" font-size="10" text-anchor="middle" fill="#000" stroke="#000" stroke-width="0.25">13</text>
<text x="679.27" y="310.3" font-size="10" text-anchor="middle" fill="#000" stroke="#000" stroke-width="0.25">14</text>
<text x="697.64" y="310.3" font-size="10" text-anchor="middle" fill="#000" stroke="#000" stroke-width="0.25">15</text>
<text x="716.01" y="310.3" font-size="10" text-anchor="middle" fill="#000" stroke="#000" stroke-width="0.25">16</text>
<text x="734.38" y="310.3" font-size="10" text-anchor="middle" fill="#000" stroke="#000" stroke-width="0.25">17</text>
<text x="752.75" y="310.3" font-size="10" text-anchor="middle" fill="#000" stroke="#000" stroke-width="0.25">18</text>
<text x="771.12" y="310.3" font-size="10" text-anchor="middle" fill="#000" stroke="#000" stroke-width="0.25">19</text>
<text x="789.49" y="310.3" font-size="10" text-anchor="middle" fill="#000" stroke="#000" stroke-width="0.25">20</text>
<text x="807.86" y="310.3" font-size="10" text-anchor="middle" fill="#000" stroke="#000" stroke-width="0.25">21</text>
<text x="826.23" y="310.3" font-size="10" text-anchor="middle" fill="#000" stroke="#000" stroke-width="0.25">22</text>
<text x="844.60" y="310.3" font-size="10" text-anchor="middle" fill="#000" stroke="#000" stroke-width="0.25">23</text>
<text x="17.95" y="595.3" font-size="10" text-anchor="middle" fill="#000" stroke="#000" stroke-width="0.25">78</text>
<text x="36.32" y="595.3" font-size="10" text-anchor="middle" fill="#000" stroke="#000" stroke-width="0.25">79</text>
<text x="54.69" y="595.3" font-size="10" text-anchor="middle" fill="#000" stroke="#000" stroke-width="0.25">80</text>
<text x="73.06" y="595.3" font-size="10" text-anchor="middle" fill="#000" stroke="#000" stroke-width="0.25">81</text>
<text x="91.43" y="595.3" font-size="10" text-anchor="middle" fill="#000" stroke="#000" stroke-width="0.25">82</text>
<text x="109.80" y="595.3" font-size="10" text-anchor="middle" fill="#000" stroke="#000" stroke-width="0.25">83</text>
<text x="128.17" y="595.3" font-size="10" text-anchor="middle" fill="#000" stroke="#000" stroke-width="0.25">84</text>
<text x="146.54" y="595.3" font-size="10" text-anchor="middle" fill="#000" stroke="#000" stroke-width="0.25">85</text>
<text x="164.91" y="595.3" font-size="10" text-anchor="middle" fill="#000" stroke="#000" stroke-width="0.25">86</text>
<text x="183.28" y="595.3" font-size="10" text-anchor="middle" fill="#000" stroke="#000" stroke-width="0.25">87</text>
<text x="201.65" y="595.3" font-size="10" text-anchor="middle" fill="#000" stroke="#000" stroke-width="0.25">88</text>
<text x="220.02" y="595.3" font-size="10" text-anchor="middle" fill="#000" stroke="#000" stroke-width="0.25">89</text>
<text x="238.39" y="595.3" font-size="10" text-anchor="middle" fill="#000" stroke="#000" stroke-width="0.25">90</text>
<text x="256.76" y="595.3" font-size="10" text-anchor="middle" fill="#000" stroke="#000" stroke-width="0.25">91</text>
<text x="275.13" y="595.3" font-size="10" text-anchor="middle" fill="#000" stroke="#000" stroke-width="0.25">92</text>
<text x="293.50" y="595.3" font-size="10" text-anchor="middle" fill="#000" stroke="#000" stroke-width="0.25">93</text>
<text x="311.87" y="595.3" font-size="10" text-anchor="middle" fill="#000" stroke="#000" stroke-width="0.25">94</text>
<text x="330.24" y="595.3" font-size="10" text-anchor="middle" fill="#000" stroke="#000" stroke-width="0.25">95</text>
<text x="348.61" y="595.3" font-size="10" text-anchor="middle" fill="#000" stroke="#000" stroke-width="0.25">96</text>
<text x="366.98" y="595.3" font-size="10" text-anchor="middle" fill="#000" stroke="#000" stroke-width="0.25">97</text>
<text x="385.35" y="595.3" font-size="10" text-anchor="middle" fill="#000" stroke="#000" stroke-width="0.25">98</text>
<text x="403.72" y="595.3" font-size="10" text-anchor="middle" fill="#000" stroke="#000" stroke-width="0.25">99</text>
<text x="422.09" y="595.3" font-size="10" text-anchor="middle" fill="#000" stroke="#000" stroke-width="0.25">00</text>
<text x="440.46" y="595.3" font-size="10" text-anchor="middle" fill="#000" stroke="#000" stroke-width="0.25">01</text>
<text x="458.83" y="595.3" font-size="10" text-anchor="middle" fill="#000" stroke="#000" stroke-width="0.25">02</text>
<text x="477.20" y="595.3" font-size="10" text-anchor="middle" fill="#000" stroke="#000" stroke-width="0.25">03</text>
<text x="495.57" y="595.3" font-size="10" text-anchor="middle" fill="#000" stroke="#000" stroke-width="0.25">04</text>
<text x="513.94" y="595.3" font-size="10" text-anchor="middle" fill="#000" stroke="#000" stroke-width="0.25">05</text>
<text x="532.31" y="595.3" font-size="10" text-anchor="middle" fill="#000" stroke="#000" stroke-width="0.25">06</text>
<text x="550.68" y="595.3" font-size="10" text-anchor="middle" fill="#000" stroke="#000" stroke-width="0.25">07</text>
<text x="569.05" y="595.3" font-size="10" text-anchor="middle" fill="#000" stroke="#000" stroke-width="0.25">08</text>
<text x="587.42" y="595.3" font-size="10" text-anchor="middle" fill="#000" stroke="#000" stroke-width="0.25">09</text>
<text x="605.79" y="595.3" font-size="10" text-anchor="middle" fill="#000" stroke="#000" stroke-width="0.25">10</text>
<text x="624.16" y="595.3" font-size="10" text-anchor="middle" fill="#000" stroke="#000" stroke-width="0.25">11</text>
<text x="642.53" y="595.3" font-size="10" text-anchor="middle" fill="#000" stroke="#000" stroke-width="0.25">12</text>
<text x="660.90" y="595.3" font-size="10" text-anchor="middle" fill="#000" stroke="#000" stroke-width="0.25">13</text>
<text x="679.27" y="595.3" font-size="10" text-anchor="middle" fill="#000" stroke="#000" stroke-width="0.25">14</text>
<text x="697.64" y="595.3" font-size="10" text-anchor="middle" fill="#000" stroke="#000" stroke-width="0.25">15</text>
<text x="716.01" y="595.3" font-size="10" text-anchor="middle" fill="#000" stroke="#000" stroke-width="0.25">16</text>
<text x="734.38" y="595.3" font-size="10" text-anchor="middle" fill="#000" stroke="#000" stroke-width="0.25">17</text>
<text x="752.75" y="595.3" font-size="10" text-anchor="middle" fill="#000" stroke="#000" stroke-width="0.25">18</text>
<text x="771.12" y="595.3" font-size="10" text-anchor="middle" fill="#000" stroke="#000" stroke-width="0.25">19</text>
<text x="789.49" y="595.3" font-size="10" text-anchor="middle" fill="#000" stroke="#000" stroke-width="0.25">20</text>
<text x="807.86" y="595.3" font-size="10" text-anchor="middle" fill="#000" stroke="#000" stroke-width="0.25">21</text>
<text x="826.23" y="595.3" font-size="10" text-anchor="middle" fill="#000" stroke="#000" stroke-width="0.25">22</text>
<text x="844.60" y="595.3" font-size="10" text-anchor="middle" fill="#000" stroke="#000" stroke-width="0.25">23</text>
<line x1="153.3" y1="226.4" x2="837.5" y2="55.3" stroke="#E01018" stroke-width="2.4" stroke-linecap="butt"/>
<line x1="131" y1="290" x2="844" y2="107.4" stroke="#E01018" stroke-width="2.4" stroke-linecap="butt"/>
<line x1="191.75" y1="411.25" x2="848.75" y2="547" stroke="#E01018" stroke-width="2.4" stroke-linecap="butt"/>
<line x1="170" y1="458" x2="828.5" y2="594.6" stroke="#E01018" stroke-width="2.4" stroke-linecap="butt"/>
<path d="M516.5 246.5 H671 L829.6 117.2 L677 252.5 V285 L824 534 L670 290.5 H516.5 Z" fill="#fff" stroke="#8E8E8E" stroke-width="1" stroke-linejoin="round" filter="url(#sh)"/>
<text transform="translate(520.2,263.7) scale(1,0.985)" x="0" y="0" font-size="16" font-weight="bold" fill="#000" textLength="139.8" lengthAdjust="spacing">Long-Term Trends</text>
<text transform="translate(520.2,282.8) scale(1,0.985)" x="0" y="0" font-size="16" font-weight="bold" fill="#000" textLength="141" lengthAdjust="spacing">Have Been Broken</text>
<rect x="324.5" y="94.5" width="146.0" height="25.0" fill="#fff" stroke="#8E8E8E" stroke-width="1" filter="url(#sh2)"/>
<text x="327.1" y="111.8" font-size="16" font-weight="bold" fill="#1208C6">30-Year T-Bonds</text>
<rect x="470.5" y="395.5" width="169.0" height="25.0" fill="#fff" stroke="#8E8E8E" stroke-width="1" filter="url(#sh2)"/>
<text x="473.3" y="412.9" font-size="16" font-weight="bold" fill="#1208C6">Yield 30-Yr T-Bonds</text>
<text x="16.8" y="13.6" font-size="14" font-weight="bold" fill="#000" textLength="32.4" lengthAdjust="spacingAndGlyphs">$USB</text>
<text x="53.6" y="13" font-size="11" fill="#000" textLength="245.5" lengthAdjust="spacingAndGlyphs">CME CBOT 30-Year US Treasury Bond Price (EOD)</text>
<text x="304.8" y="12.9" font-size="9" fill="#000" stroke="#000" stroke-width="0.15" textLength="23" lengthAdjust="spacingAndGlyphs">INDX</text>
<text x="17" y="25.7" font-size="10" fill="#000" textLength="59.3" lengthAdjust="spacingAndGlyphs">13-Sep-2023</text>
<text x="772.6" y="12.9" font-size="10.5" fill="#4A3A14" stroke="#4A3A14" stroke-width="0.3" textLength="7.8" lengthAdjust="spacingAndGlyphs">©</text>
<text x="782.4" y="12.9" font-size="10.6" fill="#4A3A14" stroke="#4A3A14" stroke-width="0.3" textLength="79.8" lengthAdjust="spacingAndGlyphs">StockCharts.com</text>
<text x="484.2" y="25.7" font-size="11" font-weight="bold" fill="#000" textLength="27.3" lengthAdjust="spacingAndGlyphs">Open</text>
<text x="517.3" y="25.7" font-size="10" stroke="#000" stroke-width="0.2" fill="#000" textLength="30.4" lengthAdjust="spacingAndGlyphs">120.51</text>
<text x="554.7" y="25.7" font-size="11" font-weight="bold" fill="#000" textLength="23.3" lengthAdjust="spacingAndGlyphs">High</text>
<text x="582.7" y="25.7" font-size="10" stroke="#000" stroke-width="0.2" fill="#000" textLength="31.5" lengthAdjust="spacingAndGlyphs">120.51</text>
<text x="620.7" y="25.7" font-size="11" font-weight="bold" fill="#000" textLength="23.3" lengthAdjust="spacingAndGlyphs">Low</text>
<text x="648.5" y="25.7" font-size="10" stroke="#000" stroke-width="0.2" fill="#000" textLength="31.7" lengthAdjust="spacingAndGlyphs">119.25</text>
<text x="686.8" y="25.7" font-size="11" font-weight="bold" fill="#000" textLength="31.0" lengthAdjust="spacingAndGlyphs">Close</text>
<text x="723.2" y="25.7" font-size="10" stroke="#000" stroke-width="0.2" fill="#000" textLength="31.3" lengthAdjust="spacingAndGlyphs">119.84</text>
<text x="761.5" y="25.7" font-size="11" font-weight="bold" fill="#000" textLength="20.0" lengthAdjust="spacingAndGlyphs">Chg</text>
<text x="786" y="25.7" font-size="10" stroke="#000" stroke-width="0.2" fill="#000" textLength="66.0" lengthAdjust="spacingAndGlyphs">-2.00 (-1.64%)</text>
<path d="M855 21 h7 l-3.5 3.8 z" fill="#A04A1E"/>
<rect x="17" y="30" width="198" height="11" fill="#EDF1FB"/>
<rect x="17" y="41" width="80" height="11.5" fill="#EDF1FB"/>
<rect x="17" y="52.5" width="85" height="11" fill="#EDF1FB"/>
<path d="M20.5 31.0v6.2 M19.1 32.2h1.4 M20.5 35.9h1.5 M25.5 31.0v8.3 M23.9 37.1l1.6 2.3 l1.6 -2.3 M24.0 34.9h1.5 M25.5 32.9h1.5" stroke="#000" stroke-width="1.05" fill="none"/>
<text x="32" y="39.2" font-size="9.9" fill="#000" stroke="#000" stroke-width="0.1" textLength="180.5" lengthAdjust="spacingAndGlyphs">$USB (Monthly) 119.84 (13 Sep)</text>
<path d="M19.5 46.4 h7.5" stroke="#0F300F" stroke-width="2"/>
<text x="29.5" y="49.6" font-size="10" fill="#153F15" stroke="#153F15" stroke-width="0.15" textLength="65" lengthAdjust="spacingAndGlyphs">EMA(6) 124.23</text>
<path d="M19.5 57.6 h7.5" stroke="#6A28D8" stroke-width="2"/>
<text x="29.5" y="60.8" font-size="10" fill="#6C22B6" stroke="#6C22B6" stroke-width="0.15" textLength="69.7" lengthAdjust="spacingAndGlyphs">EMA(10) 126.61</text>
<rect x="17" y="315" width="82" height="11" fill="#EDF1FB"/>
<path d="M20.5 316.0v6.2 M19.1 317.2h1.4 M20.5 320.9h1.5 M25.5 316.0v8.3 M23.9 322.1l1.6 2.3 l1.6 -2.3 M24.0 319.9h1.5 M25.5 317.9h1.5" stroke="#000" stroke-width="1.05" fill="none"/>
<text x="32" y="324.2" font-size="9.9" fill="#000" stroke="#000" stroke-width="0.1" textLength="62" lengthAdjust="spacingAndGlyphs">$TYX 43.94</text>
</svg>
</body></html>
